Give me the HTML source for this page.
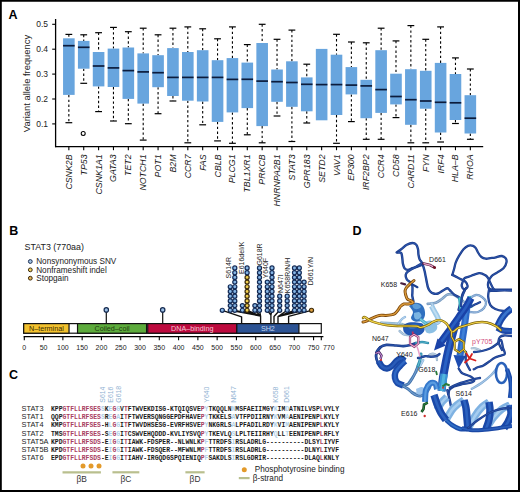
<!DOCTYPE html>
<html><head><meta charset="utf-8"><style>
html,body{margin:0;padding:0;background:#fff;}
body{width:520px;height:492px;overflow:hidden;}
svg{display:block;}
svg text{font-family:"Liberation Sans", sans-serif;}
.mono{font-family:"Liberation Mono", monospace;}
</style></head><body>
<svg width="520" height="492" viewBox="0 0 520 492">
<rect x="0" y="0" width="520" height="492" fill="#fff"/>
<g id="panelA">
<line x1="68.85" y1="34.40" x2="68.85" y2="38.30" stroke="#000" stroke-width="1.1" stroke-dasharray="2.4 2.4"/>
<line x1="65.45" y1="34.40" x2="72.25" y2="34.40" stroke="#000" stroke-width="1.2"/>
<line x1="68.85" y1="94.90" x2="68.85" y2="122.70" stroke="#000" stroke-width="1.1" stroke-dasharray="2.4 2.4"/>
<line x1="65.45" y1="122.70" x2="72.25" y2="122.70" stroke="#000" stroke-width="1.2"/>
<rect x="63.05" y="38.30" width="11.6" height="56.60" fill="#68a5de"/>
<line x1="63.05" y1="45.70" x2="74.65" y2="45.70" stroke="#0c1c3c" stroke-width="1.7"/>
<line x1="68.85" y1="146.6" x2="68.85" y2="150.2" stroke="#000" stroke-width="1.1"/>
<text transform="translate(71.85,154.4) rotate(-90)" text-anchor="end" font-size="8.8" font-style="italic" fill="#1a1a1a">CSNK2B</text>
<line x1="83.72" y1="34.80" x2="83.72" y2="40.90" stroke="#000" stroke-width="1.1" stroke-dasharray="2.4 2.4"/>
<line x1="80.32" y1="34.80" x2="87.12" y2="34.80" stroke="#000" stroke-width="1.2"/>
<line x1="83.72" y1="68.70" x2="83.72" y2="83.30" stroke="#000" stroke-width="1.1" stroke-dasharray="2.4 2.4"/>
<line x1="80.32" y1="83.30" x2="87.12" y2="83.30" stroke="#000" stroke-width="1.2"/>
<rect x="77.92" y="40.90" width="11.6" height="27.80" fill="#68a5de"/>
<line x1="77.92" y1="47.30" x2="89.52" y2="47.30" stroke="#0c1c3c" stroke-width="1.7"/>
<line x1="83.72" y1="146.6" x2="83.72" y2="150.2" stroke="#000" stroke-width="1.1"/>
<text transform="translate(86.72,154.4) rotate(-90)" text-anchor="end" font-size="8.8" font-style="italic" fill="#1a1a1a">TP53</text>
<line x1="98.59" y1="32.70" x2="98.59" y2="52.00" stroke="#000" stroke-width="1.1" stroke-dasharray="2.4 2.4"/>
<line x1="95.19" y1="32.70" x2="101.99" y2="32.70" stroke="#000" stroke-width="1.2"/>
<line x1="98.59" y1="86.40" x2="98.59" y2="111.60" stroke="#000" stroke-width="1.1" stroke-dasharray="2.4 2.4"/>
<line x1="95.19" y1="111.60" x2="101.99" y2="111.60" stroke="#000" stroke-width="1.2"/>
<rect x="92.79" y="52.00" width="11.6" height="34.40" fill="#68a5de"/>
<line x1="92.79" y1="66.00" x2="104.39" y2="66.00" stroke="#0c1c3c" stroke-width="1.7"/>
<line x1="98.59" y1="146.6" x2="98.59" y2="150.2" stroke="#000" stroke-width="1.1"/>
<text transform="translate(101.59,154.4) rotate(-90)" text-anchor="end" font-size="8.8" font-style="italic" fill="#1a1a1a">CSNK1A1</text>
<line x1="113.46" y1="27.40" x2="113.46" y2="48.60" stroke="#000" stroke-width="1.1" stroke-dasharray="2.4 2.4"/>
<line x1="110.06" y1="27.40" x2="116.86" y2="27.40" stroke="#000" stroke-width="1.2"/>
<line x1="113.46" y1="87.00" x2="113.46" y2="121.00" stroke="#000" stroke-width="1.1" stroke-dasharray="2.4 2.4"/>
<line x1="110.06" y1="121.00" x2="116.86" y2="121.00" stroke="#000" stroke-width="1.2"/>
<rect x="107.66" y="48.60" width="11.6" height="38.40" fill="#68a5de"/>
<line x1="107.66" y1="67.90" x2="119.26" y2="67.90" stroke="#0c1c3c" stroke-width="1.7"/>
<line x1="113.46" y1="146.6" x2="113.46" y2="150.2" stroke="#000" stroke-width="1.1"/>
<text transform="translate(116.46,154.4) rotate(-90)" text-anchor="end" font-size="8.8" font-style="italic" fill="#1a1a1a">GATA3</text>
<line x1="128.33" y1="31.70" x2="128.33" y2="47.50" stroke="#000" stroke-width="1.1" stroke-dasharray="2.4 2.4"/>
<line x1="124.93" y1="31.70" x2="131.73" y2="31.70" stroke="#000" stroke-width="1.2"/>
<line x1="128.33" y1="98.90" x2="128.33" y2="123.70" stroke="#000" stroke-width="1.1" stroke-dasharray="2.4 2.4"/>
<line x1="124.93" y1="123.70" x2="131.73" y2="123.70" stroke="#000" stroke-width="1.2"/>
<rect x="122.53" y="47.50" width="11.6" height="51.40" fill="#68a5de"/>
<line x1="122.53" y1="70.60" x2="134.13" y2="70.60" stroke="#0c1c3c" stroke-width="1.7"/>
<line x1="128.33" y1="146.6" x2="128.33" y2="150.2" stroke="#000" stroke-width="1.1"/>
<text transform="translate(131.33,154.4) rotate(-90)" text-anchor="end" font-size="8.8" font-style="italic" fill="#1a1a1a">TET2</text>
<line x1="143.20" y1="28.20" x2="143.20" y2="53.40" stroke="#000" stroke-width="1.1" stroke-dasharray="2.4 2.4"/>
<line x1="139.80" y1="28.20" x2="146.60" y2="28.20" stroke="#000" stroke-width="1.2"/>
<line x1="143.20" y1="103.60" x2="143.20" y2="140.10" stroke="#000" stroke-width="1.1" stroke-dasharray="2.4 2.4"/>
<line x1="139.80" y1="140.10" x2="146.60" y2="140.10" stroke="#000" stroke-width="1.2"/>
<rect x="137.40" y="53.40" width="11.6" height="50.20" fill="#68a5de"/>
<line x1="137.40" y1="71.90" x2="149.00" y2="71.90" stroke="#0c1c3c" stroke-width="1.7"/>
<line x1="143.20" y1="146.6" x2="143.20" y2="150.2" stroke="#000" stroke-width="1.1"/>
<text transform="translate(146.20,154.4) rotate(-90)" text-anchor="end" font-size="8.8" font-style="italic" fill="#1a1a1a">NOTCH1</text>
<line x1="158.07" y1="34.80" x2="158.07" y2="55.20" stroke="#000" stroke-width="1.1" stroke-dasharray="2.4 2.4"/>
<line x1="154.67" y1="34.80" x2="161.47" y2="34.80" stroke="#000" stroke-width="1.2"/>
<line x1="158.07" y1="87.20" x2="158.07" y2="113.70" stroke="#000" stroke-width="1.1" stroke-dasharray="2.4 2.4"/>
<line x1="154.67" y1="113.70" x2="161.47" y2="113.70" stroke="#000" stroke-width="1.2"/>
<rect x="152.27" y="55.20" width="11.6" height="32.00" fill="#68a5de"/>
<line x1="152.27" y1="72.70" x2="163.87" y2="72.70" stroke="#0c1c3c" stroke-width="1.7"/>
<line x1="158.07" y1="146.6" x2="158.07" y2="150.2" stroke="#000" stroke-width="1.1"/>
<text transform="translate(161.07,154.4) rotate(-90)" text-anchor="end" font-size="8.8" font-style="italic" fill="#1a1a1a">POT1</text>
<line x1="172.94" y1="28.20" x2="172.94" y2="48.10" stroke="#000" stroke-width="1.1" stroke-dasharray="2.4 2.4"/>
<line x1="169.54" y1="28.20" x2="176.34" y2="28.20" stroke="#000" stroke-width="1.2"/>
<line x1="172.94" y1="96.00" x2="172.94" y2="101.00" stroke="#000" stroke-width="1.1" stroke-dasharray="2.4 2.4"/>
<line x1="169.54" y1="101.00" x2="176.34" y2="101.00" stroke="#000" stroke-width="1.2"/>
<rect x="167.14" y="48.10" width="11.6" height="47.90" fill="#68a5de"/>
<line x1="167.14" y1="77.40" x2="178.74" y2="77.40" stroke="#0c1c3c" stroke-width="1.7"/>
<line x1="172.94" y1="146.6" x2="172.94" y2="150.2" stroke="#000" stroke-width="1.1"/>
<text transform="translate(175.94,154.4) rotate(-90)" text-anchor="end" font-size="8.8" font-style="italic" fill="#1a1a1a">B2M</text>
<line x1="187.81" y1="26.90" x2="187.81" y2="52.00" stroke="#000" stroke-width="1.1" stroke-dasharray="2.4 2.4"/>
<line x1="184.41" y1="26.90" x2="191.21" y2="26.90" stroke="#000" stroke-width="1.2"/>
<line x1="187.81" y1="100.70" x2="187.81" y2="142.80" stroke="#000" stroke-width="1.1" stroke-dasharray="2.4 2.4"/>
<line x1="184.41" y1="142.80" x2="191.21" y2="142.80" stroke="#000" stroke-width="1.2"/>
<rect x="182.01" y="52.00" width="11.6" height="48.70" fill="#68a5de"/>
<line x1="182.01" y1="77.40" x2="193.61" y2="77.40" stroke="#0c1c3c" stroke-width="1.7"/>
<line x1="187.81" y1="146.6" x2="187.81" y2="150.2" stroke="#000" stroke-width="1.1"/>
<text transform="translate(190.81,154.4) rotate(-90)" text-anchor="end" font-size="8.8" font-style="italic" fill="#1a1a1a">CCR7</text>
<line x1="202.68" y1="28.80" x2="202.68" y2="50.20" stroke="#000" stroke-width="1.1" stroke-dasharray="2.4 2.4"/>
<line x1="199.28" y1="28.80" x2="206.08" y2="28.80" stroke="#000" stroke-width="1.2"/>
<line x1="202.68" y1="101.50" x2="202.68" y2="124.80" stroke="#000" stroke-width="1.1" stroke-dasharray="2.4 2.4"/>
<line x1="199.28" y1="124.80" x2="206.08" y2="124.80" stroke="#000" stroke-width="1.2"/>
<rect x="196.88" y="50.20" width="11.6" height="51.30" fill="#68a5de"/>
<line x1="196.88" y1="77.40" x2="208.48" y2="77.40" stroke="#0c1c3c" stroke-width="1.7"/>
<line x1="202.68" y1="146.6" x2="202.68" y2="150.2" stroke="#000" stroke-width="1.1"/>
<text transform="translate(205.68,154.4) rotate(-90)" text-anchor="end" font-size="8.8" font-style="italic" fill="#1a1a1a">FAS</text>
<line x1="217.55" y1="38.80" x2="217.55" y2="60.20" stroke="#000" stroke-width="1.1" stroke-dasharray="2.4 2.4"/>
<line x1="214.15" y1="38.80" x2="220.95" y2="38.80" stroke="#000" stroke-width="1.2"/>
<line x1="217.55" y1="121.90" x2="217.55" y2="140.90" stroke="#000" stroke-width="1.1" stroke-dasharray="2.4 2.4"/>
<line x1="214.15" y1="140.90" x2="220.95" y2="140.90" stroke="#000" stroke-width="1.2"/>
<rect x="211.75" y="60.20" width="11.6" height="61.70" fill="#68a5de"/>
<line x1="211.75" y1="77.40" x2="223.35" y2="77.40" stroke="#0c1c3c" stroke-width="1.7"/>
<line x1="217.55" y1="146.6" x2="217.55" y2="150.2" stroke="#000" stroke-width="1.1"/>
<text transform="translate(220.55,154.4) rotate(-90)" text-anchor="end" font-size="8.8" font-style="italic" fill="#1a1a1a">CBLB</text>
<line x1="232.42" y1="26.90" x2="232.42" y2="58.10" stroke="#000" stroke-width="1.1" stroke-dasharray="2.4 2.4"/>
<line x1="229.02" y1="26.90" x2="235.82" y2="26.90" stroke="#000" stroke-width="1.2"/>
<line x1="232.42" y1="112.40" x2="232.42" y2="143.30" stroke="#000" stroke-width="1.1" stroke-dasharray="2.4 2.4"/>
<line x1="229.02" y1="143.30" x2="235.82" y2="143.30" stroke="#000" stroke-width="1.2"/>
<rect x="226.62" y="58.10" width="11.6" height="54.30" fill="#68a5de"/>
<line x1="226.62" y1="79.40" x2="238.22" y2="79.40" stroke="#0c1c3c" stroke-width="1.7"/>
<line x1="232.42" y1="146.6" x2="232.42" y2="150.2" stroke="#000" stroke-width="1.1"/>
<text transform="translate(235.42,154.4) rotate(-90)" text-anchor="end" font-size="8.8" font-style="italic" fill="#1a1a1a">PLCG1</text>
<line x1="247.29" y1="44.60" x2="247.29" y2="62.60" stroke="#000" stroke-width="1.1" stroke-dasharray="2.4 2.4"/>
<line x1="243.89" y1="44.60" x2="250.69" y2="44.60" stroke="#000" stroke-width="1.2"/>
<line x1="247.29" y1="108.10" x2="247.29" y2="134.80" stroke="#000" stroke-width="1.1" stroke-dasharray="2.4 2.4"/>
<line x1="243.89" y1="134.80" x2="250.69" y2="134.80" stroke="#000" stroke-width="1.2"/>
<rect x="241.49" y="62.60" width="11.6" height="45.50" fill="#68a5de"/>
<line x1="241.49" y1="79.30" x2="253.09" y2="79.30" stroke="#0c1c3c" stroke-width="1.7"/>
<line x1="247.29" y1="146.6" x2="247.29" y2="150.2" stroke="#000" stroke-width="1.1"/>
<text transform="translate(250.29,154.4) rotate(-90)" text-anchor="end" font-size="8.8" font-style="italic" fill="#1a1a1a">TBL1XR1</text>
<line x1="262.16" y1="24.30" x2="262.16" y2="43.00" stroke="#000" stroke-width="1.1" stroke-dasharray="2.4 2.4"/>
<line x1="258.76" y1="24.30" x2="265.56" y2="24.30" stroke="#000" stroke-width="1.2"/>
<line x1="262.16" y1="126.10" x2="262.16" y2="142.80" stroke="#000" stroke-width="1.1" stroke-dasharray="2.4 2.4"/>
<line x1="258.76" y1="142.80" x2="265.56" y2="142.80" stroke="#000" stroke-width="1.2"/>
<rect x="256.36" y="43.00" width="11.6" height="83.10" fill="#68a5de"/>
<line x1="256.36" y1="81.10" x2="267.96" y2="81.10" stroke="#0c1c3c" stroke-width="1.7"/>
<line x1="262.16" y1="146.6" x2="262.16" y2="150.2" stroke="#000" stroke-width="1.1"/>
<text transform="translate(265.16,154.4) rotate(-90)" text-anchor="end" font-size="8.8" font-style="italic" fill="#1a1a1a">PRKCB</text>
<line x1="277.03" y1="39.30" x2="277.03" y2="69.50" stroke="#000" stroke-width="1.1" stroke-dasharray="2.4 2.4"/>
<line x1="273.63" y1="39.30" x2="280.43" y2="39.30" stroke="#000" stroke-width="1.2"/>
<line x1="277.03" y1="101.80" x2="277.03" y2="116.00" stroke="#000" stroke-width="1.1" stroke-dasharray="2.4 2.4"/>
<line x1="273.63" y1="116.00" x2="280.43" y2="116.00" stroke="#000" stroke-width="1.2"/>
<rect x="271.23" y="69.50" width="11.6" height="32.30" fill="#68a5de"/>
<line x1="271.23" y1="81.70" x2="282.83" y2="81.70" stroke="#0c1c3c" stroke-width="1.7"/>
<line x1="277.03" y1="146.6" x2="277.03" y2="150.2" stroke="#000" stroke-width="1.1"/>
<text transform="translate(280.03,154.4) rotate(-90)" text-anchor="end" font-size="8.8" font-style="italic" fill="#1a1a1a">HNRNPA2B1</text>
<line x1="291.90" y1="30.10" x2="291.90" y2="61.30" stroke="#000" stroke-width="1.1" stroke-dasharray="2.4 2.4"/>
<line x1="288.50" y1="30.10" x2="295.30" y2="30.10" stroke="#000" stroke-width="1.2"/>
<line x1="291.90" y1="106.80" x2="291.90" y2="141.50" stroke="#000" stroke-width="1.1" stroke-dasharray="2.4 2.4"/>
<line x1="288.50" y1="141.50" x2="295.30" y2="141.50" stroke="#000" stroke-width="1.2"/>
<rect x="286.10" y="61.30" width="11.6" height="45.50" fill="#68a5de"/>
<line x1="286.10" y1="82.50" x2="297.70" y2="82.50" stroke="#0c1c3c" stroke-width="1.7"/>
<line x1="291.90" y1="146.6" x2="291.90" y2="150.2" stroke="#000" stroke-width="1.1"/>
<text transform="translate(294.90,154.4) rotate(-90)" text-anchor="end" font-size="8.8" font-style="italic" fill="#1a1a1a">STAT3</text>
<line x1="306.77" y1="64.20" x2="306.77" y2="77.40" stroke="#000" stroke-width="1.1" stroke-dasharray="2.4 2.4"/>
<line x1="303.37" y1="64.20" x2="310.17" y2="64.20" stroke="#000" stroke-width="1.2"/>
<line x1="306.77" y1="111.30" x2="306.77" y2="123.00" stroke="#000" stroke-width="1.1" stroke-dasharray="2.4 2.4"/>
<line x1="303.37" y1="123.00" x2="310.17" y2="123.00" stroke="#000" stroke-width="1.2"/>
<rect x="300.97" y="77.40" width="11.6" height="33.90" fill="#68a5de"/>
<line x1="300.97" y1="84.30" x2="312.57" y2="84.30" stroke="#0c1c3c" stroke-width="1.7"/>
<line x1="306.77" y1="146.6" x2="306.77" y2="150.2" stroke="#000" stroke-width="1.1"/>
<text transform="translate(309.77,154.4) rotate(-90)" text-anchor="end" font-size="8.8" font-style="italic" fill="#1a1a1a">GPR183</text>
<rect x="315.84" y="48.90" width="11.6" height="71.40" fill="#68a5de"/>
<line x1="315.84" y1="84.60" x2="327.44" y2="84.60" stroke="#0c1c3c" stroke-width="1.7"/>
<line x1="321.64" y1="146.6" x2="321.64" y2="150.2" stroke="#000" stroke-width="1.1"/>
<text transform="translate(324.64,154.4) rotate(-90)" text-anchor="end" font-size="8.8" font-style="italic" fill="#1a1a1a">SETD2</text>
<line x1="336.51" y1="34.30" x2="336.51" y2="54.70" stroke="#000" stroke-width="1.1" stroke-dasharray="2.4 2.4"/>
<line x1="333.11" y1="34.30" x2="339.91" y2="34.30" stroke="#000" stroke-width="1.2"/>
<line x1="336.51" y1="115.00" x2="336.51" y2="143.30" stroke="#000" stroke-width="1.1" stroke-dasharray="2.4 2.4"/>
<line x1="333.11" y1="143.30" x2="339.91" y2="143.30" stroke="#000" stroke-width="1.2"/>
<rect x="330.71" y="54.70" width="11.6" height="60.30" fill="#68a5de"/>
<line x1="330.71" y1="84.60" x2="342.31" y2="84.60" stroke="#0c1c3c" stroke-width="1.7"/>
<line x1="336.51" y1="146.6" x2="336.51" y2="150.2" stroke="#000" stroke-width="1.1"/>
<text transform="translate(339.51,154.4) rotate(-90)" text-anchor="end" font-size="8.8" font-style="italic" fill="#1a1a1a">VAV1</text>
<line x1="351.38" y1="42.00" x2="351.38" y2="67.10" stroke="#000" stroke-width="1.1" stroke-dasharray="2.4 2.4"/>
<line x1="347.98" y1="42.00" x2="354.78" y2="42.00" stroke="#000" stroke-width="1.2"/>
<line x1="351.38" y1="94.40" x2="351.38" y2="121.60" stroke="#000" stroke-width="1.1" stroke-dasharray="2.4 2.4"/>
<line x1="347.98" y1="121.60" x2="354.78" y2="121.60" stroke="#000" stroke-width="1.2"/>
<rect x="345.58" y="67.10" width="11.6" height="27.30" fill="#68a5de"/>
<line x1="345.58" y1="85.10" x2="357.18" y2="85.10" stroke="#0c1c3c" stroke-width="1.7"/>
<line x1="351.38" y1="146.6" x2="351.38" y2="150.2" stroke="#000" stroke-width="1.1"/>
<text transform="translate(354.38,154.4) rotate(-90)" text-anchor="end" font-size="8.8" font-style="italic" fill="#1a1a1a">EP300</text>
<line x1="366.25" y1="42.80" x2="366.25" y2="79.80" stroke="#000" stroke-width="1.1" stroke-dasharray="2.4 2.4"/>
<line x1="362.85" y1="42.80" x2="369.65" y2="42.80" stroke="#000" stroke-width="1.2"/>
<line x1="366.25" y1="118.20" x2="366.25" y2="139.30" stroke="#000" stroke-width="1.1" stroke-dasharray="2.4 2.4"/>
<line x1="362.85" y1="139.30" x2="369.65" y2="139.30" stroke="#000" stroke-width="1.2"/>
<rect x="360.45" y="79.80" width="11.6" height="38.40" fill="#68a5de"/>
<line x1="360.45" y1="85.90" x2="372.05" y2="85.90" stroke="#0c1c3c" stroke-width="1.7"/>
<line x1="366.25" y1="146.6" x2="366.25" y2="150.2" stroke="#000" stroke-width="1.1"/>
<text transform="translate(369.25,154.4) rotate(-90)" text-anchor="end" font-size="8.8" font-style="italic" fill="#1a1a1a">IRF2BP2</text>
<line x1="381.12" y1="28.20" x2="381.12" y2="50.20" stroke="#000" stroke-width="1.1" stroke-dasharray="2.4 2.4"/>
<line x1="377.72" y1="28.20" x2="384.52" y2="28.20" stroke="#000" stroke-width="1.2"/>
<line x1="381.12" y1="112.90" x2="381.12" y2="139.30" stroke="#000" stroke-width="1.1" stroke-dasharray="2.4 2.4"/>
<line x1="377.72" y1="139.30" x2="384.52" y2="139.30" stroke="#000" stroke-width="1.2"/>
<rect x="375.32" y="50.20" width="11.6" height="62.70" fill="#68a5de"/>
<line x1="375.32" y1="89.60" x2="386.92" y2="89.60" stroke="#0c1c3c" stroke-width="1.7"/>
<line x1="381.12" y1="146.6" x2="381.12" y2="150.2" stroke="#000" stroke-width="1.1"/>
<text transform="translate(384.12,154.4) rotate(-90)" text-anchor="end" font-size="8.8" font-style="italic" fill="#1a1a1a">CCR4</text>
<line x1="395.99" y1="40.90" x2="395.99" y2="73.70" stroke="#000" stroke-width="1.1" stroke-dasharray="2.4 2.4"/>
<line x1="392.59" y1="40.90" x2="399.39" y2="40.90" stroke="#000" stroke-width="1.2"/>
<line x1="395.99" y1="104.40" x2="395.99" y2="117.60" stroke="#000" stroke-width="1.1" stroke-dasharray="2.4 2.4"/>
<line x1="392.59" y1="117.60" x2="399.39" y2="117.60" stroke="#000" stroke-width="1.2"/>
<rect x="390.19" y="73.70" width="11.6" height="30.70" fill="#68a5de"/>
<line x1="390.19" y1="96.50" x2="401.79" y2="96.50" stroke="#0c1c3c" stroke-width="1.7"/>
<line x1="395.99" y1="146.6" x2="395.99" y2="150.2" stroke="#000" stroke-width="1.1"/>
<text transform="translate(398.99,154.4) rotate(-90)" text-anchor="end" font-size="8.8" font-style="italic" fill="#1a1a1a">CD58</text>
<line x1="410.86" y1="25.60" x2="410.86" y2="69.20" stroke="#000" stroke-width="1.1" stroke-dasharray="2.4 2.4"/>
<line x1="407.46" y1="25.60" x2="414.26" y2="25.60" stroke="#000" stroke-width="1.2"/>
<line x1="410.86" y1="124.80" x2="410.86" y2="142.80" stroke="#000" stroke-width="1.1" stroke-dasharray="2.4 2.4"/>
<line x1="407.46" y1="142.80" x2="414.26" y2="142.80" stroke="#000" stroke-width="1.2"/>
<rect x="405.06" y="69.20" width="11.6" height="55.60" fill="#68a5de"/>
<line x1="405.06" y1="99.70" x2="416.66" y2="99.70" stroke="#0c1c3c" stroke-width="1.7"/>
<line x1="410.86" y1="146.6" x2="410.86" y2="150.2" stroke="#000" stroke-width="1.1"/>
<text transform="translate(413.86,154.4) rotate(-90)" text-anchor="end" font-size="8.8" font-style="italic" fill="#1a1a1a">CARD11</text>
<line x1="425.73" y1="39.30" x2="425.73" y2="70.80" stroke="#000" stroke-width="1.1" stroke-dasharray="2.4 2.4"/>
<line x1="422.33" y1="39.30" x2="429.13" y2="39.30" stroke="#000" stroke-width="1.2"/>
<line x1="425.73" y1="108.70" x2="425.73" y2="142.80" stroke="#000" stroke-width="1.1" stroke-dasharray="2.4 2.4"/>
<line x1="422.33" y1="142.80" x2="429.13" y2="142.80" stroke="#000" stroke-width="1.2"/>
<rect x="419.93" y="70.80" width="11.6" height="37.90" fill="#68a5de"/>
<line x1="419.93" y1="101.00" x2="431.53" y2="101.00" stroke="#0c1c3c" stroke-width="1.7"/>
<line x1="425.73" y1="146.6" x2="425.73" y2="150.2" stroke="#000" stroke-width="1.1"/>
<text transform="translate(428.73,154.4) rotate(-90)" text-anchor="end" font-size="8.8" font-style="italic" fill="#1a1a1a">FYN</text>
<line x1="440.60" y1="26.90" x2="440.60" y2="62.90" stroke="#000" stroke-width="1.1" stroke-dasharray="2.4 2.4"/>
<line x1="437.20" y1="26.90" x2="444.00" y2="26.90" stroke="#000" stroke-width="1.2"/>
<line x1="440.60" y1="132.50" x2="440.60" y2="142.00" stroke="#000" stroke-width="1.1" stroke-dasharray="2.4 2.4"/>
<line x1="437.20" y1="142.00" x2="444.00" y2="142.00" stroke="#000" stroke-width="1.2"/>
<rect x="434.80" y="62.90" width="11.6" height="69.60" fill="#68a5de"/>
<line x1="434.80" y1="102.30" x2="446.40" y2="102.30" stroke="#0c1c3c" stroke-width="1.7"/>
<line x1="440.60" y1="146.6" x2="440.60" y2="150.2" stroke="#000" stroke-width="1.1"/>
<text transform="translate(443.60,154.4) rotate(-90)" text-anchor="end" font-size="8.8" font-style="italic" fill="#1a1a1a">IRF4</text>
<line x1="455.47" y1="57.90" x2="455.47" y2="74.00" stroke="#000" stroke-width="1.1" stroke-dasharray="2.4 2.4"/>
<line x1="452.07" y1="57.90" x2="458.87" y2="57.90" stroke="#000" stroke-width="1.2"/>
<line x1="455.47" y1="120.00" x2="455.47" y2="123.50" stroke="#000" stroke-width="1.1" stroke-dasharray="2.4 2.4"/>
<line x1="452.07" y1="123.50" x2="458.87" y2="123.50" stroke="#000" stroke-width="1.2"/>
<rect x="449.67" y="74.00" width="11.6" height="46.00" fill="#68a5de"/>
<line x1="449.67" y1="102.80" x2="461.27" y2="102.80" stroke="#0c1c3c" stroke-width="1.7"/>
<line x1="455.47" y1="146.6" x2="455.47" y2="150.2" stroke="#000" stroke-width="1.1"/>
<text transform="translate(458.47,154.4) rotate(-90)" text-anchor="end" font-size="8.8" font-style="italic" fill="#1a1a1a">HLA–B</text>
<line x1="470.34" y1="69.00" x2="470.34" y2="95.20" stroke="#000" stroke-width="1.1" stroke-dasharray="2.4 2.4"/>
<line x1="466.94" y1="69.00" x2="473.74" y2="69.00" stroke="#000" stroke-width="1.2"/>
<line x1="470.34" y1="133.50" x2="470.34" y2="139.30" stroke="#000" stroke-width="1.1" stroke-dasharray="2.4 2.4"/>
<line x1="466.94" y1="139.30" x2="473.74" y2="139.30" stroke="#000" stroke-width="1.2"/>
<rect x="464.54" y="95.20" width="11.6" height="38.30" fill="#68a5de"/>
<line x1="464.54" y1="118.20" x2="476.14" y2="118.20" stroke="#0c1c3c" stroke-width="1.7"/>
<line x1="470.34" y1="146.6" x2="470.34" y2="150.2" stroke="#000" stroke-width="1.1"/>
<text transform="translate(473.34,154.4) rotate(-90)" text-anchor="end" font-size="8.8" font-style="italic" fill="#1a1a1a">RHOA</text>
<circle cx="83.2" cy="133.5" r="2.0" fill="none" stroke="#000" stroke-width="1.05"/>
<line x1="55.6" y1="19" x2="55.6" y2="147.2" stroke="#000" stroke-width="1.3"/>
<line x1="55" y1="146.6" x2="483.2" y2="146.6" stroke="#000" stroke-width="1.3"/>
<line x1="52.2" y1="24.30" x2="55.6" y2="24.30" stroke="#000" stroke-width="1.1"/>
<text x="48" y="27.20" text-anchor="end" font-size="8.5" fill="#222">0.5</text>
<line x1="52.2" y1="49.20" x2="55.6" y2="49.20" stroke="#000" stroke-width="1.1"/>
<text x="48" y="52.10" text-anchor="end" font-size="8.5" fill="#222">0.4</text>
<line x1="52.2" y1="74.10" x2="55.6" y2="74.10" stroke="#000" stroke-width="1.1"/>
<text x="48" y="77.00" text-anchor="end" font-size="8.5" fill="#222">0.3</text>
<line x1="52.2" y1="99.00" x2="55.6" y2="99.00" stroke="#000" stroke-width="1.1"/>
<text x="48" y="101.90" text-anchor="end" font-size="8.5" fill="#222">0.2</text>
<line x1="52.2" y1="123.90" x2="55.6" y2="123.90" stroke="#000" stroke-width="1.1"/>
<text x="48" y="126.80" text-anchor="end" font-size="8.5" fill="#222">0.1</text>
<text transform="translate(29.8,83.5) rotate(-90)" text-anchor="middle" font-size="9.4" fill="#222">Variant allele frequency</text>
</g>
<g id="panelB">
<text x="24.6" y="249.9" font-size="8.9" fill="#222">STAT3 (770aa)</text>
<circle cx="30.3" cy="261.50" r="1.9" fill="#a3c4e6" stroke="#1b2f52" stroke-width="1"/>
<text x="36.2" y="264.20" font-size="8.2" fill="#222">Nonsynonymous SNV</text>
<circle cx="30.3" cy="269.85" r="1.9" fill="#f2d262" stroke="#3b2a0a" stroke-width="1"/>
<text x="36.2" y="272.55" font-size="8.2" fill="#222">Nonframeshift indel</text>
<circle cx="30.3" cy="278.20" r="1.9" fill="#e6b45a" stroke="#3b2a0a" stroke-width="1"/>
<text x="36.2" y="280.90" font-size="8.2" fill="#222">Stopgain</text>
<line x1="23.6" y1="336.7" x2="323.4" y2="336.7" stroke="#000" stroke-width="1.2"/>
<line x1="24.30" y1="336.7" x2="24.30" y2="340.3" stroke="#000" stroke-width="1.1"/>
<text x="24.30" y="350" text-anchor="middle" font-size="7" fill="#222">0</text>
<line x1="43.59" y1="336.7" x2="43.59" y2="340.3" stroke="#000" stroke-width="1.1"/>
<text x="43.59" y="350" text-anchor="middle" font-size="7" fill="#222">50</text>
<line x1="62.87" y1="336.7" x2="62.87" y2="340.3" stroke="#000" stroke-width="1.1"/>
<text x="62.87" y="350" text-anchor="middle" font-size="7" fill="#222">100</text>
<line x1="82.16" y1="336.7" x2="82.16" y2="340.3" stroke="#000" stroke-width="1.1"/>
<text x="82.16" y="350" text-anchor="middle" font-size="7" fill="#222">150</text>
<line x1="101.44" y1="336.7" x2="101.44" y2="340.3" stroke="#000" stroke-width="1.1"/>
<text x="101.44" y="350" text-anchor="middle" font-size="7" fill="#222">200</text>
<line x1="120.72" y1="336.7" x2="120.72" y2="340.3" stroke="#000" stroke-width="1.1"/>
<text x="120.72" y="350" text-anchor="middle" font-size="7" fill="#222">250</text>
<line x1="140.01" y1="336.7" x2="140.01" y2="340.3" stroke="#000" stroke-width="1.1"/>
<text x="140.01" y="350" text-anchor="middle" font-size="7" fill="#222">300</text>
<line x1="159.30" y1="336.7" x2="159.30" y2="340.3" stroke="#000" stroke-width="1.1"/>
<text x="159.30" y="350" text-anchor="middle" font-size="7" fill="#222">350</text>
<line x1="178.58" y1="336.7" x2="178.58" y2="340.3" stroke="#000" stroke-width="1.1"/>
<text x="178.58" y="350" text-anchor="middle" font-size="7" fill="#222">400</text>
<line x1="197.87" y1="336.7" x2="197.87" y2="340.3" stroke="#000" stroke-width="1.1"/>
<text x="197.87" y="350" text-anchor="middle" font-size="7" fill="#222">450</text>
<line x1="217.15" y1="336.7" x2="217.15" y2="340.3" stroke="#000" stroke-width="1.1"/>
<text x="217.15" y="350" text-anchor="middle" font-size="7" fill="#222">500</text>
<line x1="236.44" y1="336.7" x2="236.44" y2="340.3" stroke="#000" stroke-width="1.1"/>
<text x="236.44" y="350" text-anchor="middle" font-size="7" fill="#222">550</text>
<line x1="255.72" y1="336.7" x2="255.72" y2="340.3" stroke="#000" stroke-width="1.1"/>
<text x="255.72" y="350" text-anchor="middle" font-size="7" fill="#222">600</text>
<line x1="275.00" y1="336.7" x2="275.00" y2="340.3" stroke="#000" stroke-width="1.1"/>
<text x="275.00" y="350" text-anchor="middle" font-size="7" fill="#222">650</text>
<line x1="294.29" y1="336.7" x2="294.29" y2="340.3" stroke="#000" stroke-width="1.1"/>
<text x="294.29" y="350" text-anchor="middle" font-size="7" fill="#222">700</text>
<line x1="313.57" y1="336.7" x2="313.57" y2="340.3" stroke="#000" stroke-width="1.1"/>
<text x="313.57" y="350" text-anchor="middle" font-size="7" fill="#222">750</text>
<line x1="321.29" y1="336.7" x2="321.29" y2="340.3" stroke="#000" stroke-width="1.1"/>
<text x="328.79" y="350" text-anchor="middle" font-size="7" fill="#222">770</text>
<rect x="23.70" y="323.6" width="297.59" height="9.6" fill="#fff" stroke="#111" stroke-width="1.2"/>
<rect x="23.70" y="323.6" width="45.34" height="9.6" fill="#f2c12e" stroke="#111" stroke-width="1.2"/>
<text x="46.37" y="331.00" text-anchor="middle" font-size="7.2" fill="#3a2c00">N–terminal</text>
<rect x="77.53" y="323.6" width="69.04" height="9.6" fill="#5dab3c" stroke="#111" stroke-width="1.2"/>
<text x="112.05" y="331.00" text-anchor="middle" font-size="7.2" fill="#1d3d0f">Coiled–coil</text>
<rect x="147.72" y="323.6" width="89.10" height="9.6" fill="#bd0a3e" stroke="#111" stroke-width="1.2"/>
<text x="192.27" y="331.00" text-anchor="middle" font-size="7.2" fill="#f3c6d3">DNA–binding</text>
<rect x="236.82" y="323.6" width="62.10" height="9.6" fill="#2c5394" stroke="#111" stroke-width="1.2"/>
<text x="267.87" y="331.00" text-anchor="middle" font-size="7.2" fill="#c2d6ef">SH2</text>
<line x1="106.3" y1="311.5" x2="106.3" y2="323.6" stroke="#111" stroke-width="1.2"/>
<circle cx="106.3" cy="309.9" r="2.2" fill="#9cc0e6" stroke="#152a50" stroke-width="1.2"/>
<line x1="162.7" y1="311.5" x2="162.7" y2="323.6" stroke="#111" stroke-width="1.2"/>
<circle cx="162.7" cy="309.9" r="2.2" fill="#9cc0e6" stroke="#152a50" stroke-width="1.2"/>
<path d="M222.3 310.3 L241.6 316.8 L241.6 324 M230.3 310.3 L260.6 316 L260.6 324 M234.8 310.3 L260.6 316 M242.4 310.3 L260.6 316 M247.1 310.3 L260.6 316 M254.9 310.3 L260.6 316 M259.5 310.3 L260.6 316 M267.3 310.3 L270.9 315 L270.9 324 M272.0 310.3 L270.9 315 M279.7 310.3 L274.0 316.5 L274.0 324 M287.2 310.3 L278.0 316.5 L278.0 324 M294.5 310.3 L278.0 316.5 M299.3 310.3 L278.0 316.5 M304.1 310.3 L278.0 316.5 M311.5 310.3 L288.6 316.3 L288.6 324" stroke="#111" stroke-width="1.35" fill="none" stroke-linejoin="round"/>
<circle cx="222.3" cy="310.30" r="2.05" fill="#86b6e6" stroke="#132a55" stroke-width="1.2"/>
<circle cx="230.3" cy="310.30" r="2.05" fill="#86b6e6" stroke="#132a55" stroke-width="1.2"/>
<circle cx="230.3" cy="305.60" r="2.05" fill="#86b6e6" stroke="#132a55" stroke-width="1.2"/>
<circle cx="230.3" cy="300.90" r="2.05" fill="#86b6e6" stroke="#132a55" stroke-width="1.2"/>
<circle cx="230.3" cy="296.20" r="2.05" fill="#86b6e6" stroke="#132a55" stroke-width="1.2"/>
<circle cx="230.3" cy="291.50" r="2.05" fill="#86b6e6" stroke="#132a55" stroke-width="1.2"/>
<circle cx="230.3" cy="286.80" r="2.05" fill="#86b6e6" stroke="#132a55" stroke-width="1.2"/>
<circle cx="234.8" cy="310.30" r="2.05" fill="#86b6e6" stroke="#132a55" stroke-width="1.2"/>
<circle cx="234.8" cy="305.60" r="2.05" fill="#86b6e6" stroke="#132a55" stroke-width="1.2"/>
<circle cx="234.8" cy="300.90" r="2.05" fill="#86b6e6" stroke="#132a55" stroke-width="1.2"/>
<circle cx="234.8" cy="296.20" r="2.05" fill="#86b6e6" stroke="#132a55" stroke-width="1.2"/>
<circle cx="234.8" cy="291.50" r="2.05" fill="#86b6e6" stroke="#132a55" stroke-width="1.2"/>
<circle cx="234.8" cy="286.80" r="2.05" fill="#86b6e6" stroke="#132a55" stroke-width="1.2"/>
<circle cx="234.8" cy="282.10" r="2.05" fill="#86b6e6" stroke="#132a55" stroke-width="1.2"/>
<circle cx="234.8" cy="277.40" r="2.05" fill="#86b6e6" stroke="#132a55" stroke-width="1.2"/>
<circle cx="234.8" cy="272.70" r="2.05" fill="#86b6e6" stroke="#132a55" stroke-width="1.2"/>
<circle cx="234.8" cy="268.00" r="2.05" fill="#86b6e6" stroke="#132a55" stroke-width="1.2"/>
<circle cx="242.4" cy="310.30" r="2.05" fill="#86b6e6" stroke="#132a55" stroke-width="1.2"/>
<circle cx="242.4" cy="305.60" r="2.05" fill="#86b6e6" stroke="#132a55" stroke-width="1.2"/>
<circle cx="247.1" cy="310.30" r="2.05" fill="#f2d050" stroke="#3b2a0a" stroke-width="1.2"/>
<circle cx="247.1" cy="305.60" r="2.05" fill="#f2d050" stroke="#3b2a0a" stroke-width="1.2"/>
<circle cx="247.1" cy="300.90" r="2.05" fill="#f2d050" stroke="#3b2a0a" stroke-width="1.2"/>
<circle cx="247.1" cy="296.20" r="2.05" fill="#f2d050" stroke="#3b2a0a" stroke-width="1.2"/>
<circle cx="247.1" cy="291.50" r="2.05" fill="#f2d050" stroke="#3b2a0a" stroke-width="1.2"/>
<circle cx="247.1" cy="286.80" r="2.05" fill="#f2d050" stroke="#3b2a0a" stroke-width="1.2"/>
<circle cx="247.1" cy="282.10" r="2.05" fill="#f2d050" stroke="#3b2a0a" stroke-width="1.2"/>
<circle cx="247.1" cy="277.40" r="2.05" fill="#f2d050" stroke="#3b2a0a" stroke-width="1.2"/>
<circle cx="247.1" cy="272.70" r="2.05" fill="#86b6e6" stroke="#132a55" stroke-width="1.2"/>
<circle cx="247.1" cy="268.00" r="2.05" fill="#86b6e6" stroke="#132a55" stroke-width="1.2"/>
<circle cx="254.9" cy="310.30" r="2.05" fill="#86b6e6" stroke="#132a55" stroke-width="1.2"/>
<circle cx="254.9" cy="305.60" r="2.05" fill="#86b6e6" stroke="#132a55" stroke-width="1.2"/>
<circle cx="259.5" cy="310.30" r="2.05" fill="#86b6e6" stroke="#132a55" stroke-width="1.2"/>
<circle cx="259.5" cy="305.60" r="2.05" fill="#86b6e6" stroke="#132a55" stroke-width="1.2"/>
<circle cx="259.5" cy="300.90" r="2.05" fill="#86b6e6" stroke="#132a55" stroke-width="1.2"/>
<circle cx="259.5" cy="296.20" r="2.05" fill="#86b6e6" stroke="#132a55" stroke-width="1.2"/>
<circle cx="259.5" cy="291.50" r="2.05" fill="#86b6e6" stroke="#132a55" stroke-width="1.2"/>
<circle cx="259.5" cy="286.80" r="2.05" fill="#86b6e6" stroke="#132a55" stroke-width="1.2"/>
<circle cx="259.5" cy="282.10" r="2.05" fill="#86b6e6" stroke="#132a55" stroke-width="1.2"/>
<circle cx="259.5" cy="277.40" r="2.05" fill="#86b6e6" stroke="#132a55" stroke-width="1.2"/>
<circle cx="259.5" cy="272.70" r="2.05" fill="#86b6e6" stroke="#132a55" stroke-width="1.2"/>
<circle cx="259.5" cy="268.00" r="2.05" fill="#86b6e6" stroke="#132a55" stroke-width="1.2"/>
<circle cx="267.3" cy="310.30" r="2.05" fill="#86b6e6" stroke="#132a55" stroke-width="1.2"/>
<circle cx="267.3" cy="305.60" r="2.05" fill="#86b6e6" stroke="#132a55" stroke-width="1.2"/>
<circle cx="267.3" cy="300.90" r="2.05" fill="#86b6e6" stroke="#132a55" stroke-width="1.2"/>
<circle cx="267.3" cy="296.20" r="2.05" fill="#86b6e6" stroke="#132a55" stroke-width="1.2"/>
<circle cx="267.3" cy="291.50" r="2.05" fill="#86b6e6" stroke="#132a55" stroke-width="1.2"/>
<circle cx="267.3" cy="286.80" r="2.05" fill="#86b6e6" stroke="#132a55" stroke-width="1.2"/>
<circle cx="267.3" cy="282.10" r="2.05" fill="#86b6e6" stroke="#132a55" stroke-width="1.2"/>
<circle cx="272.0" cy="310.30" r="2.05" fill="#86b6e6" stroke="#132a55" stroke-width="1.2"/>
<circle cx="272.0" cy="305.60" r="2.05" fill="#86b6e6" stroke="#132a55" stroke-width="1.2"/>
<circle cx="272.0" cy="300.90" r="2.05" fill="#86b6e6" stroke="#132a55" stroke-width="1.2"/>
<circle cx="272.0" cy="296.20" r="2.05" fill="#86b6e6" stroke="#132a55" stroke-width="1.2"/>
<circle cx="272.0" cy="291.50" r="2.05" fill="#86b6e6" stroke="#132a55" stroke-width="1.2"/>
<circle cx="272.0" cy="286.80" r="2.05" fill="#86b6e6" stroke="#132a55" stroke-width="1.2"/>
<circle cx="272.0" cy="282.10" r="2.05" fill="#86b6e6" stroke="#132a55" stroke-width="1.2"/>
<circle cx="272.0" cy="277.40" r="2.05" fill="#86b6e6" stroke="#132a55" stroke-width="1.2"/>
<circle cx="272.0" cy="272.70" r="2.05" fill="#86b6e6" stroke="#132a55" stroke-width="1.2"/>
<circle cx="272.0" cy="268.00" r="2.05" fill="#86b6e6" stroke="#132a55" stroke-width="1.2"/>
<circle cx="279.7" cy="310.30" r="2.05" fill="#86b6e6" stroke="#132a55" stroke-width="1.2"/>
<circle cx="279.7" cy="305.60" r="2.05" fill="#86b6e6" stroke="#132a55" stroke-width="1.2"/>
<circle cx="279.7" cy="300.90" r="2.05" fill="#86b6e6" stroke="#132a55" stroke-width="1.2"/>
<circle cx="279.7" cy="296.20" r="2.05" fill="#86b6e6" stroke="#132a55" stroke-width="1.2"/>
<circle cx="287.2" cy="310.30" r="2.05" fill="#86b6e6" stroke="#132a55" stroke-width="1.2"/>
<circle cx="287.2" cy="305.60" r="2.05" fill="#86b6e6" stroke="#132a55" stroke-width="1.2"/>
<circle cx="287.2" cy="300.90" r="2.05" fill="#86b6e6" stroke="#132a55" stroke-width="1.2"/>
<circle cx="287.2" cy="296.20" r="2.05" fill="#86b6e6" stroke="#132a55" stroke-width="1.2"/>
<circle cx="294.5" cy="310.30" r="2.05" fill="#86b6e6" stroke="#132a55" stroke-width="1.2"/>
<circle cx="294.5" cy="305.60" r="2.05" fill="#86b6e6" stroke="#132a55" stroke-width="1.2"/>
<circle cx="294.5" cy="300.90" r="2.05" fill="#86b6e6" stroke="#132a55" stroke-width="1.2"/>
<circle cx="294.5" cy="296.20" r="2.05" fill="#86b6e6" stroke="#132a55" stroke-width="1.2"/>
<circle cx="294.5" cy="291.50" r="2.05" fill="#86b6e6" stroke="#132a55" stroke-width="1.2"/>
<circle cx="294.5" cy="286.80" r="2.05" fill="#86b6e6" stroke="#132a55" stroke-width="1.2"/>
<circle cx="294.5" cy="282.10" r="2.05" fill="#86b6e6" stroke="#132a55" stroke-width="1.2"/>
<circle cx="294.5" cy="277.40" r="2.05" fill="#86b6e6" stroke="#132a55" stroke-width="1.2"/>
<circle cx="294.5" cy="272.70" r="2.05" fill="#86b6e6" stroke="#132a55" stroke-width="1.2"/>
<circle cx="294.5" cy="268.00" r="2.05" fill="#86b6e6" stroke="#132a55" stroke-width="1.2"/>
<circle cx="299.3" cy="310.30" r="2.05" fill="#86b6e6" stroke="#132a55" stroke-width="1.2"/>
<circle cx="299.3" cy="305.60" r="2.05" fill="#86b6e6" stroke="#132a55" stroke-width="1.2"/>
<circle cx="299.3" cy="300.90" r="2.05" fill="#86b6e6" stroke="#132a55" stroke-width="1.2"/>
<circle cx="299.3" cy="296.20" r="2.05" fill="#86b6e6" stroke="#132a55" stroke-width="1.2"/>
<circle cx="299.3" cy="291.50" r="2.05" fill="#86b6e6" stroke="#132a55" stroke-width="1.2"/>
<circle cx="299.3" cy="286.80" r="2.05" fill="#86b6e6" stroke="#132a55" stroke-width="1.2"/>
<circle cx="299.3" cy="282.10" r="2.05" fill="#86b6e6" stroke="#132a55" stroke-width="1.2"/>
<circle cx="299.3" cy="277.40" r="2.05" fill="#86b6e6" stroke="#132a55" stroke-width="1.2"/>
<circle cx="299.3" cy="272.70" r="2.05" fill="#86b6e6" stroke="#132a55" stroke-width="1.2"/>
<circle cx="299.3" cy="268.00" r="2.05" fill="#86b6e6" stroke="#132a55" stroke-width="1.2"/>
<circle cx="304.1" cy="310.30" r="2.05" fill="#86b6e6" stroke="#132a55" stroke-width="1.2"/>
<circle cx="304.1" cy="305.60" r="2.05" fill="#86b6e6" stroke="#132a55" stroke-width="1.2"/>
<circle cx="304.1" cy="300.90" r="2.05" fill="#86b6e6" stroke="#132a55" stroke-width="1.2"/>
<circle cx="304.1" cy="296.20" r="2.05" fill="#86b6e6" stroke="#132a55" stroke-width="1.2"/>
<circle cx="304.1" cy="291.50" r="2.05" fill="#86b6e6" stroke="#132a55" stroke-width="1.2"/>
<circle cx="304.1" cy="286.80" r="2.05" fill="#86b6e6" stroke="#132a55" stroke-width="1.2"/>
<circle cx="304.1" cy="282.10" r="2.05" fill="#86b6e6" stroke="#132a55" stroke-width="1.2"/>
<circle cx="311.5" cy="310.3" r="2.05" fill="#e0a040" stroke="#3b2a0a" stroke-width="1.2"/>
<text transform="translate(230.6,278.4) rotate(-90)" font-size="7" fill="#222">S614R</text>
<text transform="translate(243.6,274.0) rotate(-90)" font-size="7" fill="#222">E616del/K</text>
<text transform="translate(261.6,265.5) rotate(-90)" font-size="7" fill="#222">G618R</text>
<text transform="translate(268.2,278.5) rotate(-90)" font-size="7" fill="#222">Y640F</text>
<text transform="translate(282.7,293.0) rotate(-90)" font-size="7" fill="#222">N647I</text>
<text transform="translate(290.0,293.2) rotate(-90)" font-size="7" fill="#222">K658R/N/H</text>
<text transform="translate(313.2,285.3) rotate(-90)" font-size="7" fill="#222">D661Y/N</text>
</g>
<g id="panelC">
<text x="21.6" y="410.60" font-size="7.4" fill="#222">STAT3</text>
<text class="mono" x="52.92 56.76 60.60" y="410.60" text-anchor="middle" font-size="6.4" font-weight="bold" fill="#1a1a1a">KPP</text>
<text class="mono" x="64.44 68.28 72.12 75.96 79.80 83.64 87.48 91.32 95.16 99.00" y="410.60" text-anchor="middle" font-size="6.4" font-weight="bold" fill="#a8405f">GTFLLRFSES</text>
<text class="mono" x="102.84" y="410.60" text-anchor="middle" font-size="6.4" font-weight="bold" fill="#b0cfe8">S</text>
<text class="mono" x="106.68" y="410.60" text-anchor="middle" font-size="6.4" font-weight="bold" fill="#1a1a1a">K</text>
<text class="mono" x="110.52" y="410.60" text-anchor="middle" font-size="6.4" font-weight="bold" fill="#b0cfe8">E</text>
<text class="mono" x="114.36" y="410.60" text-anchor="middle" font-size="6.4" font-weight="bold" fill="#a8405f">G</text>
<text class="mono" x="118.20" y="410.60" text-anchor="middle" font-size="6.4" font-weight="bold" fill="#b0cfe8">G</text>
<text class="mono" x="122.04" y="410.60" text-anchor="middle" font-size="6.4" font-weight="bold" fill="#1a1a1a">V</text>
<text class="mono" x="125.88" y="410.60" text-anchor="middle" font-size="6.4" font-weight="bold" fill="#a8405f">T</text>
<text class="mono" x="129.72 133.56 137.40 141.24 145.08 148.92 152.76 156.60 160.44 164.28 168.12 171.96 175.80 179.64 183.48 187.32 191.16 195.00 198.84" y="410.60" text-anchor="middle" font-size="6.4" font-weight="bold" fill="#1a1a1a">FTWVEKDISG-KTQIQSVE</text>
<text class="mono" x="202.68" y="410.60" text-anchor="middle" font-size="6.4" font-weight="bold" fill="#a8405f">P</text>
<text class="mono" x="206.52" y="410.60" text-anchor="middle" font-size="6.4" font-weight="bold" fill="#b0cfe8">Y</text>
<text class="mono" x="210.36 214.20 218.04 221.88 225.72 229.56" y="410.60" text-anchor="middle" font-size="6.4" font-weight="bold" fill="#1a1a1a">TKQQLN</text>
<text class="mono" x="233.40" y="410.60" text-anchor="middle" font-size="6.4" font-weight="bold" fill="#b0cfe8">N</text>
<text class="mono" x="237.24 241.08 244.92 248.76 252.60 256.44 260.28 264.12 267.96 271.80" y="410.60" text-anchor="middle" font-size="6.4" font-weight="bold" fill="#1a1a1a">MSFAEIIMGY</text>
<text class="mono" x="275.64" y="410.60" text-anchor="middle" font-size="6.4" font-weight="bold" fill="#b0cfe8">K</text>
<text class="mono" x="279.48 283.32" y="410.60" text-anchor="middle" font-size="6.4" font-weight="bold" fill="#1a1a1a">IM</text>
<text class="mono" x="287.16" y="410.60" text-anchor="middle" font-size="6.4" font-weight="bold" fill="#b0cfe8">D</text>
<text class="mono" x="291.00 294.84 298.68 302.52 306.36 310.20 314.04 317.88" y="410.60" text-anchor="middle" font-size="6.4" font-weight="bold" fill="#1a1a1a">ATNILVSP</text>
<text class="mono" x="321.72" y="410.60" text-anchor="middle" font-size="6.4" font-weight="bold" fill="#a8405f">L</text>
<text class="mono" x="325.56 329.40 333.24 337.08" y="410.60" text-anchor="middle" font-size="6.4" font-weight="bold" fill="#1a1a1a">VYLY</text>
<text x="21.6" y="418.90" font-size="7.4" fill="#222">STAT1</text>
<text class="mono" x="52.92 56.76 60.60" y="418.90" text-anchor="middle" font-size="6.4" font-weight="bold" fill="#1a1a1a">QQP</text>
<text class="mono" x="64.44 68.28 72.12 75.96 79.80 83.64 87.48 91.32 95.16 99.00" y="418.90" text-anchor="middle" font-size="6.4" font-weight="bold" fill="#a8405f">GTFLLRFSES</text>
<text class="mono" x="102.84" y="418.90" text-anchor="middle" font-size="6.4" font-weight="bold" fill="#b0cfe8">S</text>
<text class="mono" x="106.68" y="418.90" text-anchor="middle" font-size="6.4" font-weight="bold" fill="#1a1a1a">R</text>
<text class="mono" x="110.52" y="418.90" text-anchor="middle" font-size="6.4" font-weight="bold" fill="#b0cfe8">E</text>
<text class="mono" x="114.36" y="418.90" text-anchor="middle" font-size="6.4" font-weight="bold" fill="#a8405f">G</text>
<text class="mono" x="118.20" y="418.90" text-anchor="middle" font-size="6.4" font-weight="bold" fill="#b0cfe8">A</text>
<text class="mono" x="122.04" y="418.90" text-anchor="middle" font-size="6.4" font-weight="bold" fill="#1a1a1a">I</text>
<text class="mono" x="125.88" y="418.90" text-anchor="middle" font-size="6.4" font-weight="bold" fill="#a8405f">T</text>
<text class="mono" x="129.72 133.56 137.40 141.24 145.08 148.92 152.76 156.60 160.44 164.28 168.12 171.96 175.80 179.64 183.48 187.32 191.16 195.00 198.84" y="418.90" text-anchor="middle" font-size="6.4" font-weight="bold" fill="#1a1a1a">FTWVERSQNGGEPDFHAVE</text>
<text class="mono" x="202.68" y="418.90" text-anchor="middle" font-size="6.4" font-weight="bold" fill="#a8405f">P</text>
<text class="mono" x="206.52" y="418.90" text-anchor="middle" font-size="6.4" font-weight="bold" fill="#b0cfe8">Y</text>
<text class="mono" x="210.36 214.20 218.04 221.88 225.72 229.56" y="418.90" text-anchor="middle" font-size="6.4" font-weight="bold" fill="#1a1a1a">TKKELS</text>
<text class="mono" x="233.40" y="418.90" text-anchor="middle" font-size="6.4" font-weight="bold" fill="#b0cfe8">A</text>
<text class="mono" x="237.24 241.08 244.92 248.76 252.60 256.44 260.28 264.12 267.96 271.80" y="418.90" text-anchor="middle" font-size="6.4" font-weight="bold" fill="#1a1a1a">VTFPDIIRNY</text>
<text class="mono" x="275.64" y="418.90" text-anchor="middle" font-size="6.4" font-weight="bold" fill="#b0cfe8">K</text>
<text class="mono" x="279.48 283.32" y="418.90" text-anchor="middle" font-size="6.4" font-weight="bold" fill="#1a1a1a">VM</text>
<text class="mono" x="287.16" y="418.90" text-anchor="middle" font-size="6.4" font-weight="bold" fill="#b0cfe8">A</text>
<text class="mono" x="291.00 294.84 298.68 302.52 306.36 310.20 314.04 317.88" y="418.90" text-anchor="middle" font-size="6.4" font-weight="bold" fill="#1a1a1a">AENIPENP</text>
<text class="mono" x="321.72" y="418.90" text-anchor="middle" font-size="6.4" font-weight="bold" fill="#a8405f">L</text>
<text class="mono" x="325.56 329.40 333.24 337.08" y="418.90" text-anchor="middle" font-size="6.4" font-weight="bold" fill="#1a1a1a">KYLY</text>
<text x="21.6" y="427.20" font-size="7.4" fill="#222">STAT4</text>
<text class="mono" x="52.92 56.76 60.60" y="427.20" text-anchor="middle" font-size="6.4" font-weight="bold" fill="#1a1a1a">KMP</text>
<text class="mono" x="64.44 68.28 72.12 75.96 79.80 83.64 87.48 91.32 95.16 99.00" y="427.20" text-anchor="middle" font-size="6.4" font-weight="bold" fill="#a8405f">GTFLLRFSES</text>
<text class="mono" x="102.84 106.68" y="427.20" text-anchor="middle" font-size="6.4" font-weight="bold" fill="#1a1a1a">-H</text>
<text class="mono" x="110.52" y="427.20" text-anchor="middle" font-size="6.4" font-weight="bold" fill="#b0cfe8">L</text>
<text class="mono" x="114.36" y="427.20" text-anchor="middle" font-size="6.4" font-weight="bold" fill="#a8405f">G</text>
<text class="mono" x="118.20" y="427.20" text-anchor="middle" font-size="6.4" font-weight="bold" fill="#b0cfe8">G</text>
<text class="mono" x="122.04" y="427.20" text-anchor="middle" font-size="6.4" font-weight="bold" fill="#1a1a1a">I</text>
<text class="mono" x="125.88" y="427.20" text-anchor="middle" font-size="6.4" font-weight="bold" fill="#a8405f">T</text>
<text class="mono" x="129.72 133.56 137.40 141.24 145.08 148.92 152.76 156.60 160.44 164.28 168.12 171.96 175.80 179.64 183.48 187.32 191.16 195.00 198.84" y="427.20" text-anchor="middle" font-size="6.4" font-weight="bold" fill="#1a1a1a">FTWVDHSESG-EVRFHSVE</text>
<text class="mono" x="202.68" y="427.20" text-anchor="middle" font-size="6.4" font-weight="bold" fill="#a8405f">P</text>
<text class="mono" x="206.52" y="427.20" text-anchor="middle" font-size="6.4" font-weight="bold" fill="#b0cfe8">Y</text>
<text class="mono" x="210.36 214.20 218.04 221.88 225.72 229.56" y="427.20" text-anchor="middle" font-size="6.4" font-weight="bold" fill="#1a1a1a">NKGRLS</text>
<text class="mono" x="233.40" y="427.20" text-anchor="middle" font-size="6.4" font-weight="bold" fill="#b0cfe8">A</text>
<text class="mono" x="237.24 241.08 244.92 248.76 252.60 256.44 260.28 264.12 267.96 271.80" y="427.20" text-anchor="middle" font-size="6.4" font-weight="bold" fill="#1a1a1a">LPFADILRDY</text>
<text class="mono" x="275.64" y="427.20" text-anchor="middle" font-size="6.4" font-weight="bold" fill="#b0cfe8">K</text>
<text class="mono" x="279.48 283.32" y="427.20" text-anchor="middle" font-size="6.4" font-weight="bold" fill="#1a1a1a">VI</text>
<text class="mono" x="287.16" y="427.20" text-anchor="middle" font-size="6.4" font-weight="bold" fill="#b0cfe8">M</text>
<text class="mono" x="291.00 294.84 298.68 302.52 306.36 310.20 314.04 317.88" y="427.20" text-anchor="middle" font-size="6.4" font-weight="bold" fill="#1a1a1a">AENIPENP</text>
<text class="mono" x="321.72" y="427.20" text-anchor="middle" font-size="6.4" font-weight="bold" fill="#a8405f">L</text>
<text class="mono" x="325.56 329.40 333.24 337.08" y="427.20" text-anchor="middle" font-size="6.4" font-weight="bold" fill="#1a1a1a">KYLY</text>
<text x="21.6" y="435.50" font-size="7.4" fill="#222">STAT2</text>
<text class="mono" x="52.92 56.76 60.60" y="435.50" text-anchor="middle" font-size="6.4" font-weight="bold" fill="#1a1a1a">TMS</text>
<text class="mono" x="64.44 68.28 72.12 75.96 79.80 83.64 87.48 91.32 95.16 99.00" y="435.50" text-anchor="middle" font-size="6.4" font-weight="bold" fill="#a8405f">GTFLLRFSES</text>
<text class="mono" x="102.84 106.68" y="435.50" text-anchor="middle" font-size="6.4" font-weight="bold" fill="#1a1a1a">-S</text>
<text class="mono" x="110.52" y="435.50" text-anchor="middle" font-size="6.4" font-weight="bold" fill="#b0cfe8">E</text>
<text class="mono" x="114.36" y="435.50" text-anchor="middle" font-size="6.4" font-weight="bold" fill="#a8405f">G</text>
<text class="mono" x="118.20" y="435.50" text-anchor="middle" font-size="6.4" font-weight="bold" fill="#b0cfe8">G</text>
<text class="mono" x="122.04" y="435.50" text-anchor="middle" font-size="6.4" font-weight="bold" fill="#1a1a1a">I</text>
<text class="mono" x="125.88" y="435.50" text-anchor="middle" font-size="6.4" font-weight="bold" fill="#a8405f">T</text>
<text class="mono" x="129.72 133.56 137.40 141.24 145.08 148.92 152.76 156.60 160.44 164.28 168.12 171.96 175.80 179.64 183.48 187.32 191.16 195.00 198.84" y="435.50" text-anchor="middle" font-size="6.4" font-weight="bold" fill="#1a1a1a">CSWVEHQDDD-KVLIYSVQ</text>
<text class="mono" x="202.68" y="435.50" text-anchor="middle" font-size="6.4" font-weight="bold" fill="#a8405f">P</text>
<text class="mono" x="206.52" y="435.50" text-anchor="middle" font-size="6.4" font-weight="bold" fill="#b0cfe8">Y</text>
<text class="mono" x="210.36 214.20 218.04 221.88 225.72 229.56" y="435.50" text-anchor="middle" font-size="6.4" font-weight="bold" fill="#1a1a1a">TKEVLQ</text>
<text class="mono" x="233.40" y="435.50" text-anchor="middle" font-size="6.4" font-weight="bold" fill="#b0cfe8">S</text>
<text class="mono" x="237.24 241.08 244.92 248.76 252.60 256.44 260.28 264.12 267.96 271.80" y="435.50" text-anchor="middle" font-size="6.4" font-weight="bold" fill="#1a1a1a">LPLTEIIRHY</text>
<text class="mono" x="275.64" y="435.50" text-anchor="middle" font-size="6.4" font-weight="bold" fill="#b0cfe8">Q</text>
<text class="mono" x="279.48 283.32" y="435.50" text-anchor="middle" font-size="6.4" font-weight="bold" fill="#1a1a1a">LL</text>
<text class="mono" x="287.16" y="435.50" text-anchor="middle" font-size="6.4" font-weight="bold" fill="#b0cfe8">T</text>
<text class="mono" x="291.00 294.84 298.68 302.52 306.36 310.20 314.04 317.88" y="435.50" text-anchor="middle" font-size="6.4" font-weight="bold" fill="#1a1a1a">EENIPENP</text>
<text class="mono" x="321.72" y="435.50" text-anchor="middle" font-size="6.4" font-weight="bold" fill="#a8405f">L</text>
<text class="mono" x="325.56 329.40 333.24 337.08" y="435.50" text-anchor="middle" font-size="6.4" font-weight="bold" fill="#1a1a1a">RFLY</text>
<text x="21.6" y="443.80" font-size="7.4" fill="#222">STAT5A</text>
<text class="mono" x="52.92 56.76 60.60" y="443.80" text-anchor="middle" font-size="6.4" font-weight="bold" fill="#1a1a1a">KPD</text>
<text class="mono" x="64.44 68.28 72.12 75.96 79.80 83.64 87.48 91.32 95.16 99.00" y="443.80" text-anchor="middle" font-size="6.4" font-weight="bold" fill="#a8405f">GTFLLRFSDS</text>
<text class="mono" x="102.84 106.68" y="443.80" text-anchor="middle" font-size="6.4" font-weight="bold" fill="#1a1a1a">-E</text>
<text class="mono" x="110.52" y="443.80" text-anchor="middle" font-size="6.4" font-weight="bold" fill="#b0cfe8">I</text>
<text class="mono" x="114.36" y="443.80" text-anchor="middle" font-size="6.4" font-weight="bold" fill="#a8405f">G</text>
<text class="mono" x="118.20" y="443.80" text-anchor="middle" font-size="6.4" font-weight="bold" fill="#b0cfe8">G</text>
<text class="mono" x="122.04" y="443.80" text-anchor="middle" font-size="6.4" font-weight="bold" fill="#1a1a1a">I</text>
<text class="mono" x="125.88" y="443.80" text-anchor="middle" font-size="6.4" font-weight="bold" fill="#a8405f">T</text>
<text class="mono" x="129.72 133.56 137.40 141.24 145.08 148.92 152.76 156.60 160.44 164.28 168.12 171.96 175.80 179.64 183.48 187.32 191.16 195.00 198.84" y="443.80" text-anchor="middle" font-size="6.4" font-weight="bold" fill="#1a1a1a">IAWK-FDSPER--NLWNLK</text>
<text class="mono" x="202.68" y="443.80" text-anchor="middle" font-size="6.4" font-weight="bold" fill="#a8405f">P</text>
<text class="mono" x="206.52" y="443.80" text-anchor="middle" font-size="6.4" font-weight="bold" fill="#b0cfe8">F</text>
<text class="mono" x="210.36 214.20 218.04 221.88 225.72 229.56" y="443.80" text-anchor="middle" font-size="6.4" font-weight="bold" fill="#1a1a1a">TTRDFS</text>
<text class="mono" x="233.40" y="443.80" text-anchor="middle" font-size="6.4" font-weight="bold" fill="#b0cfe8">I</text>
<text class="mono" x="237.24 241.08 244.92 248.76 252.60 256.44 260.28 264.12 267.96 271.80 275.64 279.48 283.32 287.16 291.00 294.84 298.68 302.52 306.36 310.20 314.04 317.88" y="443.80" text-anchor="middle" font-size="6.4" font-weight="bold" fill="#1a1a1a">RSLADRLG----------DLSY</text>
<text class="mono" x="321.72" y="443.80" text-anchor="middle" font-size="6.4" font-weight="bold" fill="#a8405f">L</text>
<text class="mono" x="325.56 329.40 333.24 337.08" y="443.80" text-anchor="middle" font-size="6.4" font-weight="bold" fill="#1a1a1a">IYVF</text>
<text x="21.6" y="452.10" font-size="7.4" fill="#222">STAT5B</text>
<text class="mono" x="52.92 56.76 60.60" y="452.10" text-anchor="middle" font-size="6.4" font-weight="bold" fill="#1a1a1a">KPD</text>
<text class="mono" x="64.44 68.28 72.12 75.96 79.80 83.64 87.48 91.32 95.16 99.00" y="452.10" text-anchor="middle" font-size="6.4" font-weight="bold" fill="#a8405f">GTFLLRFSDS</text>
<text class="mono" x="102.84 106.68" y="452.10" text-anchor="middle" font-size="6.4" font-weight="bold" fill="#1a1a1a">-E</text>
<text class="mono" x="110.52" y="452.10" text-anchor="middle" font-size="6.4" font-weight="bold" fill="#b0cfe8">I</text>
<text class="mono" x="114.36" y="452.10" text-anchor="middle" font-size="6.4" font-weight="bold" fill="#a8405f">G</text>
<text class="mono" x="118.20" y="452.10" text-anchor="middle" font-size="6.4" font-weight="bold" fill="#b0cfe8">G</text>
<text class="mono" x="122.04" y="452.10" text-anchor="middle" font-size="6.4" font-weight="bold" fill="#1a1a1a">I</text>
<text class="mono" x="125.88" y="452.10" text-anchor="middle" font-size="6.4" font-weight="bold" fill="#a8405f">T</text>
<text class="mono" x="129.72 133.56 137.40 141.24 145.08 148.92 152.76 156.60 160.44 164.28 168.12 171.96 175.80 179.64 183.48 187.32 191.16 195.00 198.84" y="452.10" text-anchor="middle" font-size="6.4" font-weight="bold" fill="#1a1a1a">IAWK-FDSQER--MFWNLM</text>
<text class="mono" x="202.68" y="452.10" text-anchor="middle" font-size="6.4" font-weight="bold" fill="#a8405f">P</text>
<text class="mono" x="206.52" y="452.10" text-anchor="middle" font-size="6.4" font-weight="bold" fill="#b0cfe8">F</text>
<text class="mono" x="210.36 214.20 218.04 221.88 225.72 229.56" y="452.10" text-anchor="middle" font-size="6.4" font-weight="bold" fill="#1a1a1a">TTRDFS</text>
<text class="mono" x="233.40" y="452.10" text-anchor="middle" font-size="6.4" font-weight="bold" fill="#b0cfe8">I</text>
<text class="mono" x="237.24 241.08 244.92 248.76 252.60 256.44 260.28 264.12 267.96 271.80 275.64 279.48 283.32 287.16 291.00 294.84 298.68 302.52 306.36 310.20 314.04 317.88" y="452.10" text-anchor="middle" font-size="6.4" font-weight="bold" fill="#1a1a1a">RSLADRLG----------DLNY</text>
<text class="mono" x="321.72" y="452.10" text-anchor="middle" font-size="6.4" font-weight="bold" fill="#a8405f">L</text>
<text class="mono" x="325.56 329.40 333.24 337.08" y="452.10" text-anchor="middle" font-size="6.4" font-weight="bold" fill="#1a1a1a">IYVF</text>
<text x="21.6" y="460.40" font-size="7.4" fill="#222">STAT6</text>
<text class="mono" x="52.92 56.76 60.60" y="460.40" text-anchor="middle" font-size="6.4" font-weight="bold" fill="#1a1a1a">EPD</text>
<text class="mono" x="64.44 68.28 72.12 75.96 79.80 83.64 87.48 91.32 95.16 99.00" y="460.40" text-anchor="middle" font-size="6.4" font-weight="bold" fill="#a8405f">GTFLLRFSDS</text>
<text class="mono" x="102.84 106.68" y="460.40" text-anchor="middle" font-size="6.4" font-weight="bold" fill="#1a1a1a">-E</text>
<text class="mono" x="110.52" y="460.40" text-anchor="middle" font-size="6.4" font-weight="bold" fill="#b0cfe8">I</text>
<text class="mono" x="114.36" y="460.40" text-anchor="middle" font-size="6.4" font-weight="bold" fill="#a8405f">G</text>
<text class="mono" x="118.20" y="460.40" text-anchor="middle" font-size="6.4" font-weight="bold" fill="#b0cfe8">G</text>
<text class="mono" x="122.04" y="460.40" text-anchor="middle" font-size="6.4" font-weight="bold" fill="#1a1a1a">I</text>
<text class="mono" x="125.88" y="460.40" text-anchor="middle" font-size="6.4" font-weight="bold" fill="#a8405f">T</text>
<text class="mono" x="129.72 133.56 137.40 141.24 145.08 148.92 152.76 156.60 160.44 164.28 168.12 171.96 175.80 179.64 183.48 187.32 191.16 195.00 198.84" y="460.40" text-anchor="middle" font-size="6.4" font-weight="bold" fill="#1a1a1a">IAHV-IRGQDGSPQIENIQ</text>
<text class="mono" x="202.68" y="460.40" text-anchor="middle" font-size="6.4" font-weight="bold" fill="#a8405f">P</text>
<text class="mono" x="206.52" y="460.40" text-anchor="middle" font-size="6.4" font-weight="bold" fill="#b0cfe8">F</text>
<text class="mono" x="210.36 214.20 218.04 221.88 225.72 229.56" y="460.40" text-anchor="middle" font-size="6.4" font-weight="bold" fill="#1a1a1a">SAKDLS</text>
<text class="mono" x="233.40" y="460.40" text-anchor="middle" font-size="6.4" font-weight="bold" fill="#b0cfe8">I</text>
<text class="mono" x="237.24 241.08 244.92 248.76 252.60 256.44 260.28 264.12 267.96 271.80 275.64 279.48 283.32 287.16 291.00 294.84 298.68 302.52 306.36 310.20 314.04 317.88" y="460.40" text-anchor="middle" font-size="6.4" font-weight="bold" fill="#1a1a1a">RSLGDRIR----------DLAQ</text>
<text class="mono" x="321.72" y="460.40" text-anchor="middle" font-size="6.4" font-weight="bold" fill="#a8405f">L</text>
<text class="mono" x="325.56 329.40 333.24 337.08" y="460.40" text-anchor="middle" font-size="6.4" font-weight="bold" fill="#1a1a1a">KNLY</text>
<text transform="translate(105.14,402.7) rotate(-90)" font-size="6.9" fill="#8fb2d2">S614</text>
<text transform="translate(112.82,402.7) rotate(-90)" font-size="6.9" fill="#8fb2d2">E616</text>
<text transform="translate(120.50,402.7) rotate(-90)" font-size="6.9" fill="#8fb2d2">G618</text>
<text transform="translate(208.82,402.7) rotate(-90)" font-size="6.9" fill="#8fb2d2">Y640</text>
<text transform="translate(235.70,402.7) rotate(-90)" font-size="6.9" fill="#8fb2d2">N647</text>
<text transform="translate(277.94,402.7) rotate(-90)" font-size="6.9" fill="#8fb2d2">K658</text>
<text transform="translate(289.46,402.7) rotate(-90)" font-size="6.9" fill="#8fb2d2">D661</text>
<line x1="62.52" y1="472.3" x2="100.92" y2="472.3" stroke="#b9bf8e" stroke-width="2.2"/>
<text x="81.72" y="481.8" text-anchor="middle" font-size="8.4" fill="#333">βB</text>
<line x1="112.44" y1="472.3" x2="139.32" y2="472.3" stroke="#b9bf8e" stroke-width="2.2"/>
<text x="125.88" y="481.8" text-anchor="middle" font-size="8.4" fill="#333">βC</text>
<line x1="185.40" y1="472.3" x2="204.60" y2="472.3" stroke="#b9bf8e" stroke-width="2.2"/>
<text x="195.00" y="481.8" text-anchor="middle" font-size="8.4" fill="#333">βD</text>
<circle cx="83.0" cy="466.1" r="2.5" fill="#e39a2a"/>
<circle cx="91.0" cy="466.1" r="2.5" fill="#e39a2a"/>
<circle cx="99.0" cy="466.1" r="2.5" fill="#e39a2a"/>
<circle cx="244.3" cy="469.8" r="2.5" fill="#e39a2a"/>
<text x="254.8" y="472.4" font-size="8.2" fill="#222">Phosphotyrosine binding</text>
<line x1="238.8" y1="478.1" x2="249.6" y2="478.1" stroke="#b9bf8e" stroke-width="2.2"/>
<text x="252.8" y="480.6" font-size="8.2" fill="#222">β-strand</text>
</g>
<g id="panelD">
<clipPath id="dclip"><rect x="355" y="238" width="157" height="200"/></clipPath>
<g clip-path="url(#dclip)">
<path d="M427.7 303.9 C429.1 303.7 433.5 303.5 435.8 302.7 C438.1 301.9 439.6 300.6 441.5 299.3 C443.4 298.0 445.4 295.4 447.3 294.6 C449.2 293.8 451.1 294.0 453.0 294.6 C454.9 295.2 457.1 296.9 458.8 298.0 C460.6 299.1 462.7 300.9 463.5 301.5" stroke="#6f94bc" stroke-width="2.6" fill="none" stroke-linecap="round" stroke-linejoin="round"/>
<path d="M427.7 303.9 C429.1 303.7 433.5 303.5 435.8 302.7 C438.1 301.9 439.6 300.6 441.5 299.3 C443.4 298.0 445.4 295.4 447.3 294.6 C449.2 293.8 451.1 294.0 453.0 294.6 C454.9 295.2 457.1 296.9 458.8 298.0 C460.6 299.1 462.7 300.9 463.5 301.5" stroke="#9ab8d6" stroke-width="1.09" fill="none" stroke-linecap="round" stroke-linejoin="round"/>
<path d="M431.9 303.4 C432.3 304.5 433.2 308.1 434.1 310.1 C435.0 312.2 436.6 313.8 437.5 315.7 C438.4 317.6 439.7 320.0 439.7 321.3 C439.7 322.6 438.6 322.9 437.5 323.5 C436.4 324.1 433.8 324.5 433.0 324.7" stroke="#8fb6d8" stroke-width="3.0" fill="none" stroke-linecap="round" stroke-linejoin="round"/>
<path d="M431.9 303.4 C432.3 304.5 433.2 308.1 434.1 310.1 C435.0 312.2 436.6 313.8 437.5 315.7 C438.4 317.6 439.7 320.0 439.7 321.3 C439.7 322.6 438.6 322.9 437.5 323.5 C436.4 324.1 433.8 324.5 433.0 324.7" stroke="#bcd6ec" stroke-width="1.26" fill="none" stroke-linecap="round" stroke-linejoin="round"/>
<path d="M381.0 322.8 C382.8 323.0 388.2 323.5 392.0 323.8 C395.8 324.1 401.8 324.3 403.8 324.4" stroke="#9ab4cc" stroke-width="2.2" fill="none" stroke-linecap="round" stroke-linejoin="round"/>
<path d="M381.0 322.8 C382.8 323.0 388.2 323.5 392.0 323.8 C395.8 324.1 401.8 324.3 403.8 324.4" stroke="#c4d6e6" stroke-width="0.92" fill="none" stroke-linecap="round" stroke-linejoin="round"/>
<path d="M427.8 356.8 C428.2 356.4 429.2 354.9 430.2 354.4 C431.2 353.9 432.9 353.6 433.9 353.8 C434.9 354.0 435.8 354.6 436.3 355.6 C436.8 356.6 436.9 359.3 437.0 360.0" stroke="#9ab4cc" stroke-width="2.3" fill="none" stroke-linecap="round" stroke-linejoin="round"/>
<path d="M427.8 356.8 C428.2 356.4 429.2 354.9 430.2 354.4 C431.2 353.9 432.9 353.6 433.9 353.8 C434.9 354.0 435.8 354.6 436.3 355.6 C436.8 356.6 436.9 359.3 437.0 360.0" stroke="#c4d6e6" stroke-width="0.97" fill="none" stroke-linecap="round" stroke-linejoin="round"/>
<path d="M423.3 360.0 C422.8 361.0 421.1 364.2 420.0 366.0 C418.9 367.8 418.1 369.0 416.8 371.0 C415.5 373.0 413.4 376.0 412.0 378.0 C410.6 380.0 409.2 382.0 408.7 382.8" stroke="#8ab4dc" stroke-width="2.4" fill="none" stroke-linecap="round" stroke-linejoin="round"/>
<path d="M423.3 360.0 C422.8 361.0 421.1 364.2 420.0 366.0 C418.9 367.8 418.1 369.0 416.8 371.0 C415.5 373.0 413.4 376.0 412.0 378.0 C410.6 380.0 409.2 382.0 408.7 382.8" stroke="#b8d4ee" stroke-width="1.01" fill="none" stroke-linecap="round" stroke-linejoin="round"/>
<path d="M471.7 348.3 C472.3 348.3 473.9 348.0 475.3 348.3 C476.7 348.6 479.2 349.7 480.0 350.0" stroke="#9ab4cc" stroke-width="2.2" fill="none" stroke-linecap="round" stroke-linejoin="round"/>
<path d="M471.7 348.3 C472.3 348.3 473.9 348.0 475.3 348.3 C476.7 348.6 479.2 349.7 480.0 350.0" stroke="#c4d6e6" stroke-width="0.92" fill="none" stroke-linecap="round" stroke-linejoin="round"/>
<path d="M471.8 388.8 C473.4 387.8 478.2 385.3 481.5 383.0 C484.8 380.7 488.9 377.3 491.3 375.0 C493.7 372.7 495.3 370.2 496.1 369.3" stroke="#7ea8d2" stroke-width="2.4" fill="none" stroke-linecap="round" stroke-linejoin="round"/>
<path d="M471.8 388.8 C473.4 387.8 478.2 385.3 481.5 383.0 C484.8 380.7 488.9 377.3 491.3 375.0 C493.7 372.7 495.3 370.2 496.1 369.3" stroke="#a8c8e8" stroke-width="1.01" fill="none" stroke-linecap="round" stroke-linejoin="round"/>
<path d="M470.0 298.0 C471.0 297.5 474.0 295.2 476.0 295.0 C478.0 294.8 480.3 295.8 482.0 297.0 C483.7 298.2 485.7 300.2 486.0 302.0 C486.3 303.8 485.3 306.3 484.0 308.0 C482.7 309.7 480.3 311.3 478.0 312.0 C475.7 312.7 471.3 312.0 470.0 312.0" stroke="#6f97c6" stroke-width="2.3" fill="none" stroke-linecap="round" stroke-linejoin="round"/>
<path d="M470.0 298.0 C471.0 297.5 474.0 295.2 476.0 295.0 C478.0 294.8 480.3 295.8 482.0 297.0 C483.7 298.2 485.7 300.2 486.0 302.0 C486.3 303.8 485.3 306.3 484.0 308.0 C482.7 309.7 480.3 311.3 478.0 312.0 C475.7 312.7 471.3 312.0 470.0 312.0" stroke="#9dbde0" stroke-width="0.97" fill="none" stroke-linecap="round" stroke-linejoin="round"/>
<path d="M412.0 392.5 C413.0 392.8 416.3 393.7 418.0 394.0 C419.7 394.3 421.3 394.4 422.0 394.5" stroke="#8ab4dc" stroke-width="2.6" fill="none" stroke-linecap="round" stroke-linejoin="round"/>
<path d="M412.0 392.5 C413.0 392.8 416.3 393.7 418.0 394.0 C419.7 394.3 421.3 394.4 422.0 394.5" stroke="#b8d4ee" stroke-width="1.09" fill="none" stroke-linecap="round" stroke-linejoin="round"/>
<path d="M416.0 389.0 C417.0 388.7 420.2 386.7 422.0 387.0 C423.8 387.3 426.7 389.5 427.0 391.0 C427.3 392.5 425.5 395.2 424.0 396.0 C422.5 396.8 419.3 397.2 418.0 396.0 C416.7 394.8 416.3 390.2 416.0 389.0 Z" fill="#9cc4ec"/>
<path d="M396.7 252.5 C397.4 251.9 399.5 250.5 401.2 249.2 C402.9 247.9 404.9 245.7 406.8 244.7 C408.7 243.7 410.8 243.0 412.4 243.0 C414.0 243.0 415.4 243.7 416.3 244.7 C417.2 245.7 417.6 247.5 418.0 249.2 C418.4 250.9 418.2 253.1 418.5 254.8 C418.8 256.5 419.0 257.9 419.6 259.2 C420.2 260.5 421.2 261.3 421.9 262.6 C422.5 263.9 423.0 265.6 423.5 267.1 C424.0 268.6 424.3 269.8 424.7 271.5 C425.1 273.2 425.4 275.2 425.8 277.1 C426.2 279.0 426.5 281.0 426.9 282.7 C427.3 284.4 427.5 286.1 428.0 287.5 C428.5 288.9 429.1 290.2 430.0 291.2 C430.9 292.2 432.2 293.1 433.5 293.5 C434.8 293.9 436.3 294.1 438.0 293.5 C439.7 292.9 442.2 290.9 443.8 290.0 C445.4 289.1 446.3 288.3 447.3 288.3 C448.3 288.3 448.5 288.9 449.6 290.0 C450.8 291.1 452.7 293.4 454.2 294.6 C455.7 295.8 458.0 296.6 458.8 297.0" stroke="#1b3c8a" stroke-width="2.4" fill="none" stroke-linecap="round" stroke-linejoin="round"/>
<path d="M396.7 252.5 C397.4 251.9 399.5 250.5 401.2 249.2 C402.9 247.9 404.9 245.7 406.8 244.7 C408.7 243.7 410.8 243.0 412.4 243.0 C414.0 243.0 415.4 243.7 416.3 244.7 C417.2 245.7 417.6 247.5 418.0 249.2 C418.4 250.9 418.2 253.1 418.5 254.8 C418.8 256.5 419.0 257.9 419.6 259.2 C420.2 260.5 421.2 261.3 421.9 262.6 C422.5 263.9 423.0 265.6 423.5 267.1 C424.0 268.6 424.3 269.8 424.7 271.5 C425.1 273.2 425.4 275.2 425.8 277.1 C426.2 279.0 426.5 281.0 426.9 282.7 C427.3 284.4 427.5 286.1 428.0 287.5 C428.5 288.9 429.1 290.2 430.0 291.2 C430.9 292.2 432.2 293.1 433.5 293.5 C434.8 293.9 436.3 294.1 438.0 293.5 C439.7 292.9 442.2 290.9 443.8 290.0 C445.4 289.1 446.3 288.3 447.3 288.3 C448.3 288.3 448.5 288.9 449.6 290.0 C450.8 291.1 452.7 293.4 454.2 294.6 C455.7 295.8 458.0 296.6 458.8 297.0" stroke="#2c55ab" stroke-width="1.01" fill="none" stroke-linecap="round" stroke-linejoin="round"/>
<path d="M398.0 252.5 C398.5 252.6 400.5 252.1 401.2 253.0 C401.9 253.9 402.0 256.3 402.3 258.1 C402.6 259.9 402.5 262.0 402.9 263.7 C403.3 265.4 403.7 267.2 404.5 268.2 C405.3 269.2 406.6 269.9 407.9 269.9 C409.2 269.9 410.7 268.8 412.4 268.2 C414.1 267.6 416.4 267.1 418.0 266.5 C419.6 265.9 421.2 265.1 421.9 264.8" stroke="#1b3c8a" stroke-width="2.4" fill="none" stroke-linecap="round" stroke-linejoin="round"/>
<path d="M398.0 252.5 C398.5 252.6 400.5 252.1 401.2 253.0 C401.9 253.9 402.0 256.3 402.3 258.1 C402.6 259.9 402.5 262.0 402.9 263.7 C403.3 265.4 403.7 267.2 404.5 268.2 C405.3 269.2 406.6 269.9 407.9 269.9 C409.2 269.9 410.7 268.8 412.4 268.2 C414.1 267.6 416.4 267.1 418.0 266.5 C419.6 265.9 421.2 265.1 421.9 264.8" stroke="#2c55ab" stroke-width="1.01" fill="none" stroke-linecap="round" stroke-linejoin="round"/>
<path d="M421.5 263.5 C420.5 264.1 418.0 265.7 415.7 267.0 C413.4 268.3 409.6 270.2 407.9 271.5 C406.2 272.8 405.9 273.6 405.7 274.9 C405.5 276.2 406.0 278.1 406.8 279.4 C407.6 280.7 409.8 281.6 410.7 282.7 C411.6 283.8 412.1 284.4 412.4 286.1 C412.7 287.8 412.4 291.2 412.4 292.8 C412.4 294.4 412.1 294.6 412.3 296.0 C412.5 297.4 413.2 300.3 413.4 301.2" stroke="#1b3c8a" stroke-width="2.4" fill="none" stroke-linecap="round" stroke-linejoin="round"/>
<path d="M421.5 263.5 C420.5 264.1 418.0 265.7 415.7 267.0 C413.4 268.3 409.6 270.2 407.9 271.5 C406.2 272.8 405.9 273.6 405.7 274.9 C405.5 276.2 406.0 278.1 406.8 279.4 C407.6 280.7 409.8 281.6 410.7 282.7 C411.6 283.8 412.1 284.4 412.4 286.1 C412.7 287.8 412.4 291.2 412.4 292.8 C412.4 294.4 412.1 294.6 412.3 296.0 C412.5 297.4 413.2 300.3 413.4 301.2" stroke="#2c55ab" stroke-width="1.01" fill="none" stroke-linecap="round" stroke-linejoin="round"/>
<path d="M452.3 274.9 C452.6 274.0 453.4 271.4 454.0 269.3 C454.6 267.2 454.9 264.8 455.7 262.6 C456.5 260.4 457.7 258.1 459.0 255.9 C460.3 253.7 462.0 250.9 463.5 249.2 C465.0 247.5 466.4 246.4 468.0 245.8 C469.6 245.2 471.7 245.4 473.0 245.8 C474.3 246.2 475.0 247.0 475.8 248.1 C476.6 249.2 477.1 251.0 478.0 252.5 C478.9 254.0 480.1 256.0 481.4 257.0 C482.7 258.0 484.3 258.5 485.8 258.7 C487.3 258.9 488.8 258.3 490.3 258.1 C491.8 257.9 493.1 258.0 495.0 257.6 C496.9 257.2 499.6 255.9 501.4 256.0 C503.1 256.1 504.6 257.0 505.5 258.0 C506.4 259.0 506.8 260.5 506.5 262.2 C506.2 263.9 505.0 266.6 503.5 268.3 C502.0 270.0 499.4 271.0 497.4 272.4 C495.4 273.8 492.8 274.7 491.3 276.4 C489.8 278.1 488.6 280.5 488.2 282.5 C487.8 284.5 488.0 287.4 489.2 288.6 C490.4 289.8 492.6 289.4 495.3 289.6 C498.0 289.8 502.6 289.6 505.5 289.6 C508.4 289.6 511.8 289.6 513.0 289.6" stroke="#1b3c8a" stroke-width="2.3" fill="none" stroke-linecap="round" stroke-linejoin="round"/>
<path d="M452.3 274.9 C452.6 274.0 453.4 271.4 454.0 269.3 C454.6 267.2 454.9 264.8 455.7 262.6 C456.5 260.4 457.7 258.1 459.0 255.9 C460.3 253.7 462.0 250.9 463.5 249.2 C465.0 247.5 466.4 246.4 468.0 245.8 C469.6 245.2 471.7 245.4 473.0 245.8 C474.3 246.2 475.0 247.0 475.8 248.1 C476.6 249.2 477.1 251.0 478.0 252.5 C478.9 254.0 480.1 256.0 481.4 257.0 C482.7 258.0 484.3 258.5 485.8 258.7 C487.3 258.9 488.8 258.3 490.3 258.1 C491.8 257.9 493.1 258.0 495.0 257.6 C496.9 257.2 499.6 255.9 501.4 256.0 C503.1 256.1 504.6 257.0 505.5 258.0 C506.4 259.0 506.8 260.5 506.5 262.2 C506.2 263.9 505.0 266.6 503.5 268.3 C502.0 270.0 499.4 271.0 497.4 272.4 C495.4 273.8 492.8 274.7 491.3 276.4 C489.8 278.1 488.6 280.5 488.2 282.5 C487.8 284.5 488.0 287.4 489.2 288.6 C490.4 289.8 492.6 289.4 495.3 289.6 C498.0 289.8 502.6 289.6 505.5 289.6 C508.4 289.6 511.8 289.6 513.0 289.6" stroke="#2c55ab" stroke-width="0.97" fill="none" stroke-linecap="round" stroke-linejoin="round"/>
<path d="M452.3 274.9 C453.1 275.3 455.3 276.4 456.8 277.1 C458.3 277.9 459.9 278.8 461.2 279.4 C462.5 280.0 463.7 280.3 464.6 281.0 C465.5 281.7 466.3 282.5 466.8 283.5 C467.3 284.5 467.9 286.2 467.4 287.2 C466.9 288.2 464.9 289.6 464.0 289.4 C463.1 289.2 462.1 287.2 461.8 286.1 C461.5 285.0 461.9 284.0 462.4 282.7 C462.9 281.4 463.5 279.2 464.6 278.2 C465.7 277.2 467.5 277.2 469.0 276.6 C470.5 276.1 471.8 275.5 473.5 274.9 C475.2 274.3 477.6 273.4 479.1 273.2 C480.6 273.0 481.4 273.4 482.5 273.8 C483.6 274.2 484.9 274.8 485.8 275.5 C486.7 276.2 487.4 277.0 488.1 278.2 C488.9 279.4 489.6 281.2 490.3 282.7 C491.0 284.2 491.8 285.9 492.5 287.2 C493.2 288.5 494.4 289.9 494.8 290.5" stroke="#1b3c8a" stroke-width="2.3" fill="none" stroke-linecap="round" stroke-linejoin="round"/>
<path d="M452.3 274.9 C453.1 275.3 455.3 276.4 456.8 277.1 C458.3 277.9 459.9 278.8 461.2 279.4 C462.5 280.0 463.7 280.3 464.6 281.0 C465.5 281.7 466.3 282.5 466.8 283.5 C467.3 284.5 467.9 286.2 467.4 287.2 C466.9 288.2 464.9 289.6 464.0 289.4 C463.1 289.2 462.1 287.2 461.8 286.1 C461.5 285.0 461.9 284.0 462.4 282.7 C462.9 281.4 463.5 279.2 464.6 278.2 C465.7 277.2 467.5 277.2 469.0 276.6 C470.5 276.1 471.8 275.5 473.5 274.9 C475.2 274.3 477.6 273.4 479.1 273.2 C480.6 273.0 481.4 273.4 482.5 273.8 C483.6 274.2 484.9 274.8 485.8 275.5 C486.7 276.2 487.4 277.0 488.1 278.2 C488.9 279.4 489.6 281.2 490.3 282.7 C491.0 284.2 491.8 285.9 492.5 287.2 C493.2 288.5 494.4 289.9 494.8 290.5" stroke="#2c55ab" stroke-width="0.97" fill="none" stroke-linecap="round" stroke-linejoin="round"/>
<path d="M489.2 288.6 C489.0 290.0 488.0 294.0 488.2 296.7 C488.4 299.4 489.0 302.8 490.2 304.9 C491.4 306.9 493.1 308.0 495.3 309.0 C497.5 310.0 500.6 310.7 503.5 311.0 C506.4 311.3 511.4 311.0 513.0 311.0" stroke="#1b3c8a" stroke-width="2.3" fill="none" stroke-linecap="round" stroke-linejoin="round"/>
<path d="M489.2 288.6 C489.0 290.0 488.0 294.0 488.2 296.7 C488.4 299.4 489.0 302.8 490.2 304.9 C491.4 306.9 493.1 308.0 495.3 309.0 C497.5 310.0 500.6 310.7 503.5 311.0 C506.4 311.3 511.4 311.0 513.0 311.0" stroke="#2c55ab" stroke-width="0.97" fill="none" stroke-linecap="round" stroke-linejoin="round"/>
<path d="M466.0 288.0 C465.5 288.8 463.7 291.5 463.0 293.0 C462.3 294.5 462.2 295.2 461.7 296.9 C461.2 298.6 460.6 301.2 460.1 303.4 C459.6 305.6 458.8 308.8 458.5 309.9" stroke="#1b3c8a" stroke-width="2.3" fill="none" stroke-linecap="round" stroke-linejoin="round"/>
<path d="M466.0 288.0 C465.5 288.8 463.7 291.5 463.0 293.0 C462.3 294.5 462.2 295.2 461.7 296.9 C461.2 298.6 460.6 301.2 460.1 303.4 C459.6 305.6 458.8 308.8 458.5 309.9" stroke="#2c55ab" stroke-width="0.97" fill="none" stroke-linecap="round" stroke-linejoin="round"/>
<path d="M399.6 331.0 C400.3 331.6 402.5 333.8 404.0 334.5 C405.5 335.2 407.9 334.9 408.7 335.0" stroke="#8fb0cc" stroke-width="2.4" fill="none" stroke-linecap="round" stroke-linejoin="round"/>
<path d="M399.6 331.0 C400.3 331.6 402.5 333.8 404.0 334.5 C405.5 335.2 407.9 334.9 408.7 335.0" stroke="#b8cee2" stroke-width="1.01" fill="none" stroke-linecap="round" stroke-linejoin="round"/>
<path d="M381.0 322.5 C382.8 322.6 388.5 323.0 392.0 323.2 C395.5 323.4 400.3 323.7 402.0 323.8" stroke="#86b0cc" stroke-width="2.2" fill="none" stroke-linecap="round" stroke-linejoin="round"/>
<path d="M381.0 322.5 C382.8 322.6 388.5 323.0 392.0 323.2 C395.5 323.4 400.3 323.7 402.0 323.8" stroke="#b0cce0" stroke-width="0.92" fill="none" stroke-linecap="round" stroke-linejoin="round"/>
<path d="M409.0 306.0 C409.8 305.5 412.2 303.4 414.0 303.0 C415.8 302.6 418.3 302.7 420.0 303.5 C421.7 304.3 423.2 306.1 424.0 308.0 C424.8 309.9 425.3 312.9 425.0 315.0 C424.7 317.1 423.7 319.4 422.0 320.5 C420.3 321.6 416.8 321.9 415.0 321.5 C413.2 321.1 411.3 319.6 411.0 318.0 C410.7 316.4 413.3 314.0 413.0 312.0 C412.7 310.0 409.7 307.0 409.0 306.0 Z" fill="#3070bf"/>
<path d="M412.0 304.5 C412.8 304.4 415.5 303.5 417.0 303.8 C418.5 304.1 420.8 305.6 421.0 306.5 C421.2 307.4 419.2 308.7 418.0 309.0 C416.8 309.3 415.0 309.2 414.0 308.5 C413.0 307.8 412.3 305.2 412.0 304.5 Z" fill="#5a9cd8"/>
<path d="M414.0 313.0 C414.8 312.8 417.8 311.5 419.0 312.0 C420.2 312.5 421.7 314.8 421.5 316.0 C421.3 317.2 419.2 319.2 418.0 319.5 C416.8 319.8 415.2 319.1 414.5 318.0 C413.8 316.9 414.1 313.8 414.0 313.0 Z" fill="#7ab4e2"/>
<path d="M403.0 325.0 C404.0 324.6 406.7 322.9 409.0 322.5 C411.3 322.1 414.7 322.2 417.0 322.5 C419.3 322.8 421.8 322.8 423.0 324.0 C424.2 325.2 425.0 328.2 424.5 330.0 C424.0 331.8 422.4 334.1 420.0 335.0 C417.6 335.9 412.7 336.0 410.0 335.5 C407.3 335.0 405.2 333.8 404.0 332.0 C402.8 330.2 403.2 326.2 403.0 325.0 Z" fill="#2258b4"/>
<path d="M407.0 326.0 C408.0 325.8 411.0 324.6 413.0 324.5 C415.0 324.4 418.5 324.9 419.0 325.5 C419.5 326.1 417.5 327.5 416.0 328.0 C414.5 328.5 411.5 328.8 410.0 328.5 C408.5 328.2 407.5 326.4 407.0 326.0 Z" fill="#3e7ccc"/>
<path d="M398.0 324.0 C398.7 323.2 400.8 320.2 402.0 319.0 C403.2 317.8 404.5 317.3 405.0 317.0" stroke="#8ab4dc" stroke-width="2.4" fill="none" stroke-linecap="round" stroke-linejoin="round"/>
<path d="M398.0 324.0 C398.7 323.2 400.8 320.2 402.0 319.0 C403.2 317.8 404.5 317.3 405.0 317.0" stroke="#b8d4ee" stroke-width="1.01" fill="none" stroke-linecap="round" stroke-linejoin="round"/>
<path d="M376.6 353.0 C377.2 352.1 378.7 348.7 380.3 347.3 C381.9 345.9 383.8 345.2 386.4 344.9 C389.0 344.6 393.2 345.3 396.1 345.5 C399.0 345.7 401.1 346.2 403.5 346.1 C405.9 346.0 408.7 345.4 410.8 344.9 C412.9 344.4 415.1 343.3 416.0 343.0" stroke="#1b3c8a" stroke-width="2.6" fill="none" stroke-linecap="round" stroke-linejoin="round"/>
<path d="M376.6 353.0 C377.2 352.1 378.7 348.7 380.3 347.3 C381.9 345.9 383.8 345.2 386.4 344.9 C389.0 344.6 393.2 345.3 396.1 345.5 C399.0 345.7 401.1 346.2 403.5 346.1 C405.9 346.0 408.7 345.4 410.8 344.9 C412.9 344.4 415.1 343.3 416.0 343.0" stroke="#2c55ab" stroke-width="1.09" fill="none" stroke-linecap="round" stroke-linejoin="round"/>
<path d="M416.0 343.0 C417.0 342.8 420.0 342.0 422.0 342.0 C424.0 342.0 427.0 342.8 428.0 343.0" stroke="#2a8aa8" stroke-width="2.4" fill="none" stroke-linecap="round" stroke-linejoin="round"/>
<path d="M416.0 343.0 C417.0 342.8 420.0 342.0 422.0 342.0 C424.0 342.0 427.0 342.8 428.0 343.0" stroke="#50b0c8" stroke-width="1.01" fill="none" stroke-linecap="round" stroke-linejoin="round"/>
<path d="M380.3 347.3 C379.7 348.1 377.2 350.2 376.6 352.2 C376.0 354.2 376.0 357.3 376.6 359.5 C377.2 361.7 378.7 364.2 380.3 365.6 C381.9 367.0 385.4 367.6 386.4 368.0" stroke="#1b3c8a" stroke-width="2.8" fill="none" stroke-linecap="round" stroke-linejoin="round"/>
<path d="M380.3 347.3 C379.7 348.1 377.2 350.2 376.6 352.2 C376.0 354.2 376.0 357.3 376.6 359.5 C377.2 361.7 378.7 364.2 380.3 365.6 C381.9 367.0 385.4 367.6 386.4 368.0" stroke="#2c55ab" stroke-width="1.18" fill="none" stroke-linecap="round" stroke-linejoin="round"/>
<path d="M378.5 361.0 C379.1 361.9 380.6 365.2 382.0 366.5 C383.4 367.8 385.3 368.6 387.0 368.5 C388.7 368.4 390.4 367.2 392.0 366.0 C393.6 364.8 395.0 362.2 396.5 361.0 C398.0 359.8 399.6 358.5 401.0 358.5 C402.4 358.5 404.3 360.6 405.0 361.0" stroke="#1a48a5" stroke-width="6.4" fill="none" stroke-linecap="butt" stroke-linejoin="round"/>
<path d="M378.5 361.0 C379.1 361.9 380.6 365.2 382.0 366.5 C383.4 367.8 385.3 368.6 387.0 368.5 C388.7 368.4 390.4 367.2 392.0 366.0 C393.6 364.8 395.0 362.2 396.5 361.0 C398.0 359.8 399.6 358.5 401.0 358.5 C402.4 358.5 404.3 360.6 405.0 361.0" stroke="#2a5cb8" stroke-width="2.40" fill="none" stroke-linecap="butt" stroke-linejoin="round"/>
<path d="M405.0 361.0 C404.1 361.9 401.1 364.7 399.5 366.5 C397.9 368.3 396.2 370.1 395.5 372.0 C394.8 373.9 394.7 376.2 395.0 378.0 C395.3 379.8 396.1 381.8 397.5 383.0 C398.9 384.2 402.5 385.1 403.5 385.5" stroke="#1c4cab" stroke-width="6.4" fill="none" stroke-linecap="butt" stroke-linejoin="round"/>
<path d="M405.0 361.0 C404.1 361.9 401.1 364.7 399.5 366.5 C397.9 368.3 396.2 370.1 395.5 372.0 C394.8 373.9 394.7 376.2 395.0 378.0 C395.3 379.8 396.1 381.8 397.5 383.0 C398.9 384.2 402.5 385.1 403.5 385.5" stroke="#2f68c4" stroke-width="2.40" fill="none" stroke-linecap="butt" stroke-linejoin="round"/>
<path d="M403.5 385.5 C404.3 385.2 406.8 385.1 408.3 383.9 C409.8 382.6 411.3 380.0 412.5 378.0 C413.7 376.0 414.8 373.7 415.7 371.7 C416.6 369.7 417.6 366.9 418.0 366.0" stroke="#3f6ea8" stroke-width="2.8" fill="none" stroke-linecap="round" stroke-linejoin="round"/>
<path d="M403.5 385.5 C404.3 385.2 406.8 385.1 408.3 383.9 C409.8 382.6 411.3 380.0 412.5 378.0 C413.7 376.0 414.8 373.7 415.7 371.7 C416.6 369.7 417.6 366.9 418.0 366.0" stroke="#6f9ccc" stroke-width="1.18" fill="none" stroke-linecap="round" stroke-linejoin="round"/>
<path d="M418.0 366.0 C418.3 365.0 419.5 362.0 420.0 360.0 C420.5 358.0 420.8 355.0 421.0 354.0" stroke="#2a8aa8" stroke-width="3.0" fill="none" stroke-linecap="round" stroke-linejoin="round"/>
<path d="M418.0 366.0 C418.3 365.0 419.5 362.0 420.0 360.0 C420.5 358.0 420.8 355.0 421.0 354.0" stroke="#60b8d0" stroke-width="1.26" fill="none" stroke-linecap="round" stroke-linejoin="round"/>
<path d="M403.5 386.3 C404.2 386.8 406.6 388.0 408.0 389.0 C409.4 390.0 410.5 391.4 412.0 392.5 C413.5 393.6 415.5 394.9 417.0 395.5 C418.5 396.1 419.4 396.5 421.0 396.0 C422.6 395.5 425.0 394.0 426.5 392.5 C428.0 391.0 429.4 387.9 430.0 387.0" stroke="#3f6ea8" stroke-width="2.8" fill="none" stroke-linecap="round" stroke-linejoin="round"/>
<path d="M403.5 386.3 C404.2 386.8 406.6 388.0 408.0 389.0 C409.4 390.0 410.5 391.4 412.0 392.5 C413.5 393.6 415.5 394.9 417.0 395.5 C418.5 396.1 419.4 396.5 421.0 396.0 C422.6 395.5 425.0 394.0 426.5 392.5 C428.0 391.0 429.4 387.9 430.0 387.0" stroke="#6f9ccc" stroke-width="1.18" fill="none" stroke-linecap="round" stroke-linejoin="round"/>
<path d="M459.5 297.5 C459.7 298.9 460.2 303.2 460.5 306.0 C460.8 308.8 460.9 312.7 461.0 314.0" stroke="#2aa0b4" stroke-width="3.2" fill="none" stroke-linecap="butt" stroke-linejoin="round"/>
<path d="M459.5 297.5 C459.7 298.9 460.2 303.2 460.5 306.0 C460.8 308.8 460.9 312.7 461.0 314.0" stroke="#60c8d4" stroke-width="1.20" fill="none" stroke-linecap="butt" stroke-linejoin="round"/>
<path d="M469.0 296.0 C469.2 297.0 470.2 300.0 470.5 302.0 C470.8 304.0 470.9 307.0 471.0 308.0" stroke="#2aa0b4" stroke-width="3.0" fill="none" stroke-linecap="butt" stroke-linejoin="round"/>
<path d="M469.0 296.0 C469.2 297.0 470.2 300.0 470.5 302.0 C470.8 304.0 470.9 307.0 471.0 308.0" stroke="#60c8d4" stroke-width="1.20" fill="none" stroke-linecap="butt" stroke-linejoin="round"/>
<path d="M465.0 290.0 C464.5 291.2 462.7 294.6 462.0 297.3 C461.3 300.0 461.2 304.6 461.0 306.0" stroke="#1b3c8a" stroke-width="2.3" fill="none" stroke-linecap="round" stroke-linejoin="round"/>
<path d="M465.0 290.0 C464.5 291.2 462.7 294.6 462.0 297.3 C461.3 300.0 461.2 304.6 461.0 306.0" stroke="#2c55ab" stroke-width="0.97" fill="none" stroke-linecap="round" stroke-linejoin="round"/>
<path d="M466.3 309.5 C467.2 308.9 469.7 307.2 472.0 306.0 C474.3 304.8 478.7 302.8 480.0 302.2" stroke="#1b3c8a" stroke-width="2.3" fill="none" stroke-linecap="round" stroke-linejoin="round"/>
<path d="M466.3 309.5 C467.2 308.9 469.7 307.2 472.0 306.0 C474.3 304.8 478.7 302.8 480.0 302.2" stroke="#2c55ab" stroke-width="0.97" fill="none" stroke-linecap="round" stroke-linejoin="round"/>
<path d="M431.5 306.0 C432.0 306.9 433.5 309.7 434.5 311.5 C435.5 313.3 436.7 315.2 437.5 317.0 C438.3 318.8 439.2 321.6 439.5 322.5" stroke="#9cc8e8" stroke-width="5.4" fill="none" stroke-linecap="butt" stroke-linejoin="round"/>
<path d="M431.5 306.0 C432.0 306.9 433.5 309.7 434.5 311.5 C435.5 313.3 436.7 315.2 437.5 317.0 C438.3 318.8 439.2 321.6 439.5 322.5" stroke="#c0def2" stroke-width="2.00" fill="none" stroke-linecap="butt" stroke-linejoin="round"/>
<path d="M424.0 322.0 C425.0 321.8 428.0 320.3 430.0 320.5 C432.0 320.7 434.8 321.6 436.0 323.0 C437.2 324.4 437.7 327.3 437.0 329.0 C436.3 330.7 433.8 332.5 432.0 333.0 C430.2 333.5 427.3 333.8 426.0 332.0 C424.7 330.2 424.3 323.7 424.0 322.0 Z" fill="#8cc0e4"/>
<path d="M420.0 319.0 C420.7 319.5 422.8 321.0 424.0 322.0 C425.2 323.0 426.9 324.5 427.5 325.0" stroke="#48a8c8" stroke-width="3.2" fill="none" stroke-linecap="butt" stroke-linejoin="round"/>
<path d="M420.0 319.0 C420.7 319.5 422.8 321.0 424.0 322.0 C425.2 323.0 426.9 324.5 427.5 325.0" stroke="#7ccbe0" stroke-width="1.20" fill="none" stroke-linecap="butt" stroke-linejoin="round"/>
<path d="M467.0 306.0 C466.8 308.0 466.1 313.7 465.5 318.0 C464.9 322.3 464.2 327.5 463.5 332.0 C462.8 336.5 462.1 341.0 461.5 345.0 C460.9 349.0 460.2 354.2 460.0 356.0" stroke="#2c68c8" stroke-width="7.0" fill="none" stroke-linecap="butt" stroke-linejoin="round"/>
<path d="M467.0 306.0 C466.8 308.0 466.1 313.7 465.5 318.0 C464.9 322.3 464.2 327.5 463.5 332.0 C462.8 336.5 462.1 341.0 461.5 345.0 C460.9 349.0 460.2 354.2 460.0 356.0" stroke="#3f80d6" stroke-width="2.60" fill="none" stroke-linecap="butt" stroke-linejoin="round"/>
<path d="M453.5 355.0 L466.0 356.0 L458.6 368.5 Z" fill="#1d4cb0"/>
<path d="M456.0 322.0 C455.3 324.3 453.2 331.3 452.0 336.0 C450.8 340.7 449.6 345.3 448.5 350.0 C447.4 354.7 446.4 359.3 445.5 364.0 C444.6 368.7 443.7 373.5 443.0 378.0 C442.3 382.5 441.8 388.8 441.5 391.0" stroke="#1c46aa" stroke-width="8.2" fill="none" stroke-linecap="butt" stroke-linejoin="round"/>
<path d="M456.0 322.0 C455.3 324.3 453.2 331.3 452.0 336.0 C450.8 340.7 449.6 345.3 448.5 350.0 C447.4 354.7 446.4 359.3 445.5 364.0 C444.6 368.7 443.7 373.5 443.0 378.0 C442.3 382.5 441.8 388.8 441.5 391.0" stroke="#2a62c4" stroke-width="3.00" fill="none" stroke-linecap="butt" stroke-linejoin="round"/>
<path d="M444.2 374.0 C444.0 375.3 443.4 379.2 443.0 382.0 C442.6 384.8 441.8 389.5 441.5 391.0" stroke="#3a94d4" stroke-width="7.4" fill="none" stroke-linecap="butt" stroke-linejoin="round"/>
<path d="M444.2 374.0 C444.0 375.3 443.4 379.2 443.0 382.0 C442.6 384.8 441.8 389.5 441.5 391.0" stroke="#52b6dc" stroke-width="3.00" fill="none" stroke-linecap="butt" stroke-linejoin="round"/>
<path d="M471.0 298.0 C470.2 299.5 468.0 303.8 466.0 307.0 C464.0 310.2 461.3 313.7 459.0 317.0 C456.7 320.3 454.2 323.8 452.0 327.0 C449.8 330.2 447.3 333.5 445.5 336.0 C443.7 338.5 441.8 341.0 441.0 342.0" stroke="#1a42a8" stroke-width="7.4" fill="none" stroke-linecap="butt" stroke-linejoin="round"/>
<path d="M471.0 298.0 C470.2 299.5 468.0 303.8 466.0 307.0 C464.0 310.2 461.3 313.7 459.0 317.0 C456.7 320.3 454.2 323.8 452.0 327.0 C449.8 330.2 447.3 333.5 445.5 336.0 C443.7 338.5 441.8 341.0 441.0 342.0" stroke="#2a5ec0" stroke-width="2.60" fill="none" stroke-linecap="butt" stroke-linejoin="round"/>
<path d="M437.5 338.5 L446.0 345.5 L434.0 350.5 Z" fill="#1a42a8"/>
<path d="M458.6 368.5 C459.2 369.2 460.4 371.9 461.9 373.0 C463.4 374.1 465.8 374.5 467.5 375.2 C469.2 375.9 470.9 376.5 472.0 377.4 C473.1 378.3 474.6 379.9 474.2 380.8 C473.8 381.7 471.8 382.4 469.7 383.0 C467.6 383.6 464.5 383.6 461.9 384.2 C459.3 384.8 456.2 385.5 454.1 386.4 C452.1 387.3 450.5 388.4 449.6 389.7 C448.7 391.0 448.7 393.4 448.5 394.2" stroke="#1b3c8a" stroke-width="2.3" fill="none" stroke-linecap="round" stroke-linejoin="round"/>
<path d="M458.6 368.5 C459.2 369.2 460.4 371.9 461.9 373.0 C463.4 374.1 465.8 374.5 467.5 375.2 C469.2 375.9 470.9 376.5 472.0 377.4 C473.1 378.3 474.6 379.9 474.2 380.8 C473.8 381.7 471.8 382.4 469.7 383.0 C467.6 383.6 464.5 383.6 461.9 384.2 C459.3 384.8 456.2 385.5 454.1 386.4 C452.1 387.3 450.5 388.4 449.6 389.7 C448.7 391.0 448.7 393.4 448.5 394.2" stroke="#2c55ab" stroke-width="0.97" fill="none" stroke-linecap="round" stroke-linejoin="round"/>
<path d="M449.7 387.8 C450.5 387.4 452.8 386.1 454.6 385.3 C456.4 384.5 458.7 383.6 460.7 382.9 C462.7 382.2 464.6 381.6 466.8 381.0 C469.0 380.4 471.9 379.7 474.1 379.2 C476.3 378.7 479.0 378.2 480.0 378.0" stroke="#1b3c8a" stroke-width="2.3" fill="none" stroke-linecap="round" stroke-linejoin="round"/>
<path d="M449.7 387.8 C450.5 387.4 452.8 386.1 454.6 385.3 C456.4 384.5 458.7 383.6 460.7 382.9 C462.7 382.2 464.6 381.6 466.8 381.0 C469.0 380.4 471.9 379.7 474.1 379.2 C476.3 378.7 479.0 378.2 480.0 378.0" stroke="#2c55ab" stroke-width="0.97" fill="none" stroke-linecap="round" stroke-linejoin="round"/>
<path d="M418.0 358.0 C419.2 357.7 422.9 356.4 425.0 356.2 C427.1 356.0 428.7 356.7 430.6 356.7 C432.5 356.7 434.7 356.6 436.2 356.2 C437.7 355.8 438.9 354.4 439.5 354.0" stroke="#1b3c8a" stroke-width="2.4" fill="none" stroke-linecap="round" stroke-linejoin="round"/>
<path d="M418.0 358.0 C419.2 357.7 422.9 356.4 425.0 356.2 C427.1 356.0 428.7 356.7 430.6 356.7 C432.5 356.7 434.7 356.6 436.2 356.2 C437.7 355.8 438.9 354.4 439.5 354.0" stroke="#2c55ab" stroke-width="1.01" fill="none" stroke-linecap="round" stroke-linejoin="round"/>
<path d="M447.3 390.2 C447.7 391.8 449.1 397.4 449.7 400.0 C450.3 402.6 450.7 405.0 450.9 406.0" stroke="#1b3c8a" stroke-width="2.4" fill="none" stroke-linecap="round" stroke-linejoin="round"/>
<path d="M447.3 390.2 C447.7 391.8 449.1 397.4 449.7 400.0 C450.3 402.6 450.7 405.0 450.9 406.0" stroke="#2c55ab" stroke-width="1.01" fill="none" stroke-linecap="round" stroke-linejoin="round"/>
<path d="M474.0 352.0 C475.3 351.8 479.3 351.6 482.0 351.0 C484.7 350.4 487.5 349.7 490.0 348.5 C492.5 347.3 495.2 345.4 497.0 344.0 C498.8 342.6 500.0 339.4 501.0 340.0 C502.0 340.6 502.4 345.5 503.0 347.8 C503.6 350.1 505.2 352.4 504.9 353.7 C504.6 355.0 502.6 355.0 501.0 355.6 C499.4 356.2 497.1 356.6 495.2 357.6 C493.2 358.6 491.2 360.2 489.3 361.5 C487.4 362.8 485.4 364.4 483.5 365.4 C481.6 366.4 479.2 366.6 477.6 367.3 C476.0 368.0 474.4 369.0 473.7 369.3" stroke="#1b3c8a" stroke-width="2.3" fill="none" stroke-linecap="round" stroke-linejoin="round"/>
<path d="M474.0 352.0 C475.3 351.8 479.3 351.6 482.0 351.0 C484.7 350.4 487.5 349.7 490.0 348.5 C492.5 347.3 495.2 345.4 497.0 344.0 C498.8 342.6 500.0 339.4 501.0 340.0 C502.0 340.6 502.4 345.5 503.0 347.8 C503.6 350.1 505.2 352.4 504.9 353.7 C504.6 355.0 502.6 355.0 501.0 355.6 C499.4 356.2 497.1 356.6 495.2 357.6 C493.2 358.6 491.2 360.2 489.3 361.5 C487.4 362.8 485.4 364.4 483.5 365.4 C481.6 366.4 479.2 366.6 477.6 367.3 C476.0 368.0 474.4 369.0 473.7 369.3" stroke="#2c55ab" stroke-width="0.97" fill="none" stroke-linecap="round" stroke-linejoin="round"/>
<path d="M466.0 352.0 C466.0 353.7 465.3 359.0 466.0 362.0 C466.7 365.0 469.3 368.7 470.0 370.0" stroke="#1b3c8a" stroke-width="2.3" fill="none" stroke-linecap="round" stroke-linejoin="round"/>
<path d="M466.0 352.0 C466.0 353.7 465.3 359.0 466.0 362.0 C466.7 365.0 469.3 368.7 470.0 370.0" stroke="#2c55ab" stroke-width="0.97" fill="none" stroke-linecap="round" stroke-linejoin="round"/>
<path d="M425.0 402.0 C425.2 400.0 425.1 393.1 426.0 390.0 C426.9 386.9 428.7 384.6 430.2 383.5 C431.7 382.4 434.0 382.6 435.1 383.5 C436.2 384.4 436.7 388.1 437.0 389.0" stroke="#3478cc" stroke-width="6.0" fill="none" stroke-linecap="butt" stroke-linejoin="round"/>
<path d="M425.0 402.0 C425.2 400.0 425.1 393.1 426.0 390.0 C426.9 386.9 428.7 384.6 430.2 383.5 C431.7 382.4 434.0 382.6 435.1 383.5 C436.2 384.4 436.7 388.1 437.0 389.0" stroke="#5a9ce0" stroke-width="2.20" fill="none" stroke-linecap="butt" stroke-linejoin="round"/>
<path d="M437.0 410.0 C437.8 408.7 440.3 404.2 442.0 402.0 C443.7 399.8 446.2 397.8 447.0 397.0" stroke="#7fb2e2" stroke-width="7.5" fill="none" stroke-linecap="butt" stroke-linejoin="round"/>
<path d="M437.0 410.0 C437.8 408.7 440.3 404.2 442.0 402.0 C443.7 399.8 446.2 397.8 447.0 397.0" stroke="#a6cdf0" stroke-width="2.60" fill="none" stroke-linecap="butt" stroke-linejoin="round"/>
<path d="M446.0 420.0 C447.0 418.3 450.0 412.7 452.0 410.0 C454.0 407.3 456.0 405.7 458.0 404.0 C460.0 402.3 463.0 400.7 464.0 400.0" stroke="#7fb2e2" stroke-width="7.5" fill="none" stroke-linecap="butt" stroke-linejoin="round"/>
<path d="M446.0 420.0 C447.0 418.3 450.0 412.7 452.0 410.0 C454.0 407.3 456.0 405.7 458.0 404.0 C460.0 402.3 463.0 400.7 464.0 400.0" stroke="#a6cdf0" stroke-width="2.60" fill="none" stroke-linecap="butt" stroke-linejoin="round"/>
<path d="M468.0 429.0 C469.2 426.8 472.7 419.7 475.0 416.0 C477.3 412.3 479.7 409.3 482.0 407.0 C484.3 404.7 487.8 402.8 489.0 402.0" stroke="#7fb2e2" stroke-width="7.5" fill="none" stroke-linecap="butt" stroke-linejoin="round"/>
<path d="M468.0 429.0 C469.2 426.8 472.7 419.7 475.0 416.0 C477.3 412.3 479.7 409.3 482.0 407.0 C484.3 404.7 487.8 402.8 489.0 402.0" stroke="#a6cdf0" stroke-width="2.60" fill="none" stroke-linecap="butt" stroke-linejoin="round"/>
<path d="M486.0 429.0 C487.3 427.0 491.3 420.3 494.0 417.0 C496.7 413.7 499.3 411.0 502.0 409.0 C504.7 407.0 508.7 405.7 510.0 405.0" stroke="#7fb2e2" stroke-width="7.5" fill="none" stroke-linecap="butt" stroke-linejoin="round"/>
<path d="M486.0 429.0 C487.3 427.0 491.3 420.3 494.0 417.0 C496.7 413.7 499.3 411.0 502.0 409.0 C504.7 407.0 508.7 405.7 510.0 405.0" stroke="#a6cdf0" stroke-width="2.60" fill="none" stroke-linecap="butt" stroke-linejoin="round"/>
<path d="M434.0 395.0 C434.5 396.5 435.8 401.0 437.0 404.0 C438.2 407.0 439.5 410.3 441.0 413.0 C442.5 415.7 445.2 418.8 446.0 420.0" stroke="#1a48a8" stroke-width="7.5" fill="none" stroke-linecap="butt" stroke-linejoin="round"/>
<path d="M434.0 395.0 C434.5 396.5 435.8 401.0 437.0 404.0 C438.2 407.0 439.5 410.3 441.0 413.0 C442.5 415.7 445.2 418.8 446.0 420.0" stroke="#2c62bf" stroke-width="2.60" fill="none" stroke-linecap="butt" stroke-linejoin="round"/>
<path d="M464.0 400.0 C464.3 401.3 465.5 405.0 466.0 408.0 C466.5 411.0 466.7 414.5 467.0 418.0 C467.3 421.5 467.8 427.2 468.0 429.0" stroke="#1a48a8" stroke-width="7.5" fill="none" stroke-linecap="butt" stroke-linejoin="round"/>
<path d="M464.0 400.0 C464.3 401.3 465.5 405.0 466.0 408.0 C466.5 411.0 466.7 414.5 467.0 418.0 C467.3 421.5 467.8 427.2 468.0 429.0" stroke="#2c62bf" stroke-width="2.60" fill="none" stroke-linecap="butt" stroke-linejoin="round"/>
<path d="M489.0 402.0 C489.2 403.3 490.0 407.0 490.0 410.0 C490.0 413.0 489.7 416.8 489.0 420.0 C488.3 423.2 486.5 427.5 486.0 429.0" stroke="#1a48a8" stroke-width="7.5" fill="none" stroke-linecap="butt" stroke-linejoin="round"/>
<path d="M489.0 402.0 C489.2 403.3 490.0 407.0 490.0 410.0 C490.0 413.0 489.7 416.8 489.0 420.0 C488.3 423.2 486.5 427.5 486.0 429.0" stroke="#2c62bf" stroke-width="2.60" fill="none" stroke-linecap="butt" stroke-linejoin="round"/>
<path d="M510.0 405.0 C510.2 406.5 511.3 411.2 511.0 414.0 C510.7 416.8 509.2 419.7 508.0 422.0 C506.8 424.3 504.7 427.0 504.0 428.0" stroke="#1a48a8" stroke-width="7.5" fill="none" stroke-linecap="butt" stroke-linejoin="round"/>
<path d="M510.0 405.0 C510.2 406.5 511.3 411.2 511.0 414.0 C510.7 416.8 509.2 419.7 508.0 422.0 C506.8 424.3 504.7 427.0 504.0 428.0" stroke="#2c62bf" stroke-width="2.60" fill="none" stroke-linecap="butt" stroke-linejoin="round"/>
<path d="M446.0 420.0 C447.0 420.8 449.7 423.5 452.0 425.0 C454.3 426.5 457.3 428.3 460.0 429.0 C462.7 429.7 466.7 429.0 468.0 429.0" stroke="#1d4eac" stroke-width="4.6" fill="none" stroke-linecap="butt" stroke-linejoin="round"/>
<path d="M446.0 420.0 C447.0 420.8 449.7 423.5 452.0 425.0 C454.3 426.5 457.3 428.3 460.0 429.0 C462.7 429.7 466.7 429.0 468.0 429.0" stroke="#3070c6" stroke-width="1.60" fill="none" stroke-linecap="butt" stroke-linejoin="round"/>
<path d="M462.0 428.0 C463.3 428.3 466.7 429.7 470.0 430.0 C473.3 430.3 477.7 430.2 482.0 430.0 C486.3 429.8 491.0 429.2 496.0 428.5 C501.0 427.8 509.3 426.4 512.0 426.0" stroke="#1a48a5" stroke-width="4.0" fill="none" stroke-linecap="butt" stroke-linejoin="round"/>
<path d="M462.0 428.0 C463.3 428.3 466.7 429.7 470.0 430.0 C473.3 430.3 477.7 430.2 482.0 430.0 C486.3 429.8 491.0 429.2 496.0 428.5 C501.0 427.8 509.3 426.4 512.0 426.0" stroke="#2c5fba" stroke-width="1.40" fill="none" stroke-linecap="butt" stroke-linejoin="round"/>
<path d="M468.0 428.0 C469.7 426.7 474.1 422.7 478.0 420.0 C481.9 417.3 487.1 413.9 491.3 412.0 C495.5 410.1 499.6 409.2 503.0 408.5 C506.4 407.8 510.5 408.1 512.0 408.0" stroke="#1b3c8a" stroke-width="2.3" fill="none" stroke-linecap="round" stroke-linejoin="round"/>
<path d="M468.0 428.0 C469.7 426.7 474.1 422.7 478.0 420.0 C481.9 417.3 487.1 413.9 491.3 412.0 C495.5 410.1 499.6 409.2 503.0 408.5 C506.4 407.8 510.5 408.1 512.0 408.0" stroke="#2c55ab" stroke-width="0.97" fill="none" stroke-linecap="round" stroke-linejoin="round"/>
<path d="M511.5 308.5 C510.6 309.2 507.8 311.2 506.0 313.0 C504.2 314.8 502.4 317.2 501.0 319.5 C499.6 321.8 498.1 325.3 497.5 326.5" stroke="#1c48a8" stroke-width="7.0" fill="none" stroke-linecap="butt" stroke-linejoin="round"/>
<path d="M511.5 308.5 C510.6 309.2 507.8 311.2 506.0 313.0 C504.2 314.8 502.4 317.2 501.0 319.5 C499.6 321.8 498.1 325.3 497.5 326.5" stroke="#3a74cc" stroke-width="2.60" fill="none" stroke-linecap="butt" stroke-linejoin="round"/>
<path d="M497.0 327.5 C498.0 328.0 500.5 329.9 503.0 330.5 C505.5 331.1 510.5 330.9 512.0 331.0" stroke="#1c48a8" stroke-width="6.0" fill="none" stroke-linecap="butt" stroke-linejoin="round"/>
<path d="M497.0 327.5 C498.0 328.0 500.5 329.9 503.0 330.5 C505.5 331.1 510.5 330.9 512.0 331.0" stroke="#2c5fba" stroke-width="2.20" fill="none" stroke-linecap="butt" stroke-linejoin="round"/>
<path d="M512.0 336.0 C510.7 335.9 506.0 335.3 504.0 335.5 C502.0 335.7 500.9 336.1 500.0 337.0 C499.1 337.9 498.6 339.7 498.5 341.0 C498.4 342.3 498.9 343.5 499.5 345.0 C500.1 346.5 501.6 349.2 502.0 350.0" stroke="#1b3c8a" stroke-width="2.3" fill="none" stroke-linecap="round" stroke-linejoin="round"/>
<path d="M512.0 336.0 C510.7 335.9 506.0 335.3 504.0 335.5 C502.0 335.7 500.9 336.1 500.0 337.0 C499.1 337.9 498.6 339.7 498.5 341.0 C498.4 342.3 498.9 343.5 499.5 345.0 C500.1 346.5 501.6 349.2 502.0 350.0" stroke="#2c55ab" stroke-width="0.97" fill="none" stroke-linecap="round" stroke-linejoin="round"/>
<path d="M490.0 291.0 C491.7 290.9 496.3 290.6 500.0 290.5 C503.7 290.4 510.0 290.5 512.0 290.5" stroke="#1b3c8a" stroke-width="2.3" fill="none" stroke-linecap="round" stroke-linejoin="round"/>
<path d="M490.0 291.0 C491.7 290.9 496.3 290.6 500.0 290.5 C503.7 290.4 510.0 290.5 512.0 290.5" stroke="#2c55ab" stroke-width="0.97" fill="none" stroke-linecap="round" stroke-linejoin="round"/>
<ellipse cx="501.5" cy="373" rx="5.6" ry="10" fill="none" stroke="#2a62ba" stroke-width="2.6"/>
<path d="M507.0 369.0 C507.5 370.5 509.3 374.8 510.0 378.0 C510.7 381.2 511.0 384.7 511.0 388.0 C511.0 391.3 510.2 396.3 510.0 398.0" stroke="#1a4aa8" stroke-width="4.4" fill="none" stroke-linecap="butt" stroke-linejoin="round"/>
<path d="M507.0 369.0 C507.5 370.5 509.3 374.8 510.0 378.0 C510.7 381.2 511.0 384.7 511.0 388.0 C511.0 391.3 510.2 396.3 510.0 398.0" stroke="#2c62bf" stroke-width="1.60" fill="none" stroke-linecap="butt" stroke-linejoin="round"/>
<path d="M414.0 280.5 C413.4 281.1 411.3 282.7 410.1 283.8 C408.9 284.9 407.6 286.1 406.8 287.2 C406.0 288.3 405.3 289.3 405.1 290.5 C404.9 291.7 405.2 293.1 405.6 294.5 C406.0 295.9 406.3 297.8 407.3 298.9 C408.3 300.0 410.9 300.5 411.8 301.2 C412.7 301.9 413.5 302.4 412.9 302.9 C412.3 303.4 409.9 303.8 408.4 304.0 C406.9 304.2 405.2 303.6 403.9 304.0 C402.6 304.4 401.5 305.3 400.6 306.2 C399.7 307.1 399.3 308.4 398.4 309.6 C397.5 310.8 396.0 312.7 395.0 313.5 C394.0 314.3 393.9 314.3 392.4 314.6 C390.9 314.9 388.1 315.3 385.9 315.4 C383.7 315.5 381.6 315.0 379.4 315.4 C377.2 315.8 375.1 316.9 372.9 317.9 C370.7 318.8 368.0 320.4 366.4 321.1 C364.8 321.8 363.6 321.9 363.0 322.0" stroke="#7a4508" stroke-width="3.0" fill="none" stroke-linecap="round" stroke-linejoin="round"/>
<path d="M414.0 280.5 C413.4 281.1 411.3 282.7 410.1 283.8 C408.9 284.9 407.6 286.1 406.8 287.2 C406.0 288.3 405.3 289.3 405.1 290.5 C404.9 291.7 405.2 293.1 405.6 294.5 C406.0 295.9 406.3 297.8 407.3 298.9 C408.3 300.0 410.9 300.5 411.8 301.2 C412.7 301.9 413.5 302.4 412.9 302.9 C412.3 303.4 409.9 303.8 408.4 304.0 C406.9 304.2 405.2 303.6 403.9 304.0 C402.6 304.4 401.5 305.3 400.6 306.2 C399.7 307.1 399.3 308.4 398.4 309.6 C397.5 310.8 396.0 312.7 395.0 313.5 C394.0 314.3 393.9 314.3 392.4 314.6 C390.9 314.9 388.1 315.3 385.9 315.4 C383.7 315.5 381.6 315.0 379.4 315.4 C377.2 315.8 375.1 316.9 372.9 317.9 C370.7 318.8 368.0 320.4 366.4 321.1 C364.8 321.8 363.6 321.9 363.0 322.0" stroke="#dc9c3c" stroke-width="1.40" fill="none" stroke-linecap="round" stroke-linejoin="round"/>
<path d="M363.0 318.0 C363.3 317.9 363.4 316.6 364.8 317.1 C366.2 317.6 368.9 320.0 371.3 321.1 C373.7 322.2 376.7 322.9 379.4 323.6 C382.1 324.3 384.5 324.8 387.5 325.2 C390.5 325.6 394.1 325.9 397.3 326.0 C400.6 326.1 403.8 326.0 407.0 326.0 C410.2 326.0 414.5 325.9 416.8 326.2 C419.1 326.4 418.9 327.7 420.7 327.5 C422.5 327.3 425.3 326.1 427.4 325.2 C429.4 324.3 431.3 322.7 433.0 321.9 C434.7 321.1 436.0 320.4 437.5 320.2 C439.0 320.0 440.5 320.1 442.0 320.7 C443.5 321.2 445.3 322.5 446.4 323.5 C447.5 324.5 447.7 325.5 448.7 326.9 C449.7 328.3 450.9 331.8 452.5 332.0 C454.1 332.2 456.0 329.0 458.0 328.0 C460.0 327.0 461.4 326.8 464.5 325.9 C467.6 325.0 472.9 323.1 476.6 322.5 C480.4 321.9 483.8 321.9 487.0 322.5 C490.2 323.1 493.3 324.6 495.6 325.9 C497.9 327.2 499.9 329.5 500.8 330.2" stroke="#7a6008" stroke-width="2.4" fill="none" stroke-linecap="round" stroke-linejoin="round"/>
<path d="M363.0 318.0 C363.3 317.9 363.4 316.6 364.8 317.1 C366.2 317.6 368.9 320.0 371.3 321.1 C373.7 322.2 376.7 322.9 379.4 323.6 C382.1 324.3 384.5 324.8 387.5 325.2 C390.5 325.6 394.1 325.9 397.3 326.0 C400.6 326.1 403.8 326.0 407.0 326.0 C410.2 326.0 414.5 325.9 416.8 326.2 C419.1 326.4 418.9 327.7 420.7 327.5 C422.5 327.3 425.3 326.1 427.4 325.2 C429.4 324.3 431.3 322.7 433.0 321.9 C434.7 321.1 436.0 320.4 437.5 320.2 C439.0 320.0 440.5 320.1 442.0 320.7 C443.5 321.2 445.3 322.5 446.4 323.5 C447.5 324.5 447.7 325.5 448.7 326.9 C449.7 328.3 450.9 331.8 452.5 332.0 C454.1 332.2 456.0 329.0 458.0 328.0 C460.0 327.0 461.4 326.8 464.5 325.9 C467.6 325.0 472.9 323.1 476.6 322.5 C480.4 321.9 483.8 321.9 487.0 322.5 C490.2 323.1 493.3 324.6 495.6 325.9 C497.9 327.2 499.9 329.5 500.8 330.2" stroke="#f2d448" stroke-width="1.20" fill="none" stroke-linecap="round" stroke-linejoin="round"/>
<path d="M423.5 263.5 L430 265 L434.7 267.6" stroke="#5a2040" stroke-width="2.7" fill="none" stroke-linecap="round"/>
<path d="M424 263.6 L430 265 L432.5 266.4" stroke="#eaa6cc" stroke-width="1.3" fill="none" stroke-linecap="round"/><circle cx="434.5" cy="267.5" r="1.2" fill="#7a1020"/>
<path d="M401.2 283.3 L405.1 284.4" stroke="#4a2040" stroke-width="2.2" stroke-linecap="round"/>
<path d="M412.4 284.4 L417.4 287.2" stroke="#1d3f8e" stroke-width="2.2" stroke-linecap="round"/>
<path d="M412.5 331.5 L413.5 336" stroke="#c03060" stroke-width="1.8"/>
<path d="M410 337 L414 334.3 L418.3 337 L418.3 343.5 L414.3 346.8 L410 344 Z" fill="none" stroke="#7a2a5a" stroke-width="2.2"/>
<path d="M410 337 L414 334.3 L418.3 337 L418.3 343.5 L414.3 346.8 L410 344 Z" fill="none" stroke="#f0aad2" stroke-width="1.1"/>
<path d="M417 346.5 L418.5 351 L420 356.9" stroke="#e8a0c8" stroke-width="1.5" fill="none"/>
<path d="M375.5 353.5 L379 352 L381.5 355.5 L380.5 359" stroke="#3a1a50" stroke-width="2.4" fill="none" stroke-linejoin="round"/>
<path d="M375.5 353.5 L379 352 L381.5 355.5 L380.5 359" stroke="#c890d8" stroke-width="1.1" fill="none" stroke-linejoin="round"/>
<circle cx="381" cy="360" r="1.1" fill="#d03030"/>
<path d="M451.5 332 L451.5 336.5 L454.5 342 M454.5 342 L459 339 L463.8 342 L464 349 L459.5 352.5 L454.8 349.5 Z M463.8 349.5 L466.5 353.5" stroke="#7a6008" stroke-width="2.2" fill="none" stroke-linejoin="round"/>
<path d="M451.5 332 L451.5 336.5 L454.5 342 M454.5 342 L459 339 L463.8 342 L464 349 L459.5 352.5 L454.8 349.5 Z M463.8 349.5 L466.5 353.5" stroke="#f0d040" stroke-width="1.0" fill="none" stroke-linejoin="round"/>
<path d="M466.5 353.5 L469.5 358.5 M465 362.5 L469.5 358.5 L475.5 360.5 M469.5 358.5 L472 354" stroke="#d82020" stroke-width="1.8" fill="none" stroke-linecap="round"/>
<path d="M436 371 L437 375" stroke="#2a7a3a" stroke-width="1.8"/>
<path d="M442.4 386.5 L446 384 L449.7 385.5" stroke="#2a7a3a" stroke-width="2" fill="none"/>
<circle cx="443" cy="387.8" r="1" fill="#d03030"/>
<path d="M427.8 402.6 L424 404.5 L423.5 409 L421.5 412" stroke="#0f3a18" stroke-width="2.6" fill="none"/><path d="M427.8 402.6 L424 404.5 L423.5 409 L421.5 412" stroke="#2a8040" stroke-width="1.2" fill="none"/>
<circle cx="424.7" cy="416" r="1.2" fill="#d03030"/>
</g>
<text x="429.1" y="261.5" font-size="7" fill="#222">D661</text>
<text x="380.8" y="287.2" font-size="7" fill="#222">K658</text>
<text x="372.0" y="340.7" font-size="7" fill="#222">N647</text>
<text x="396.3" y="357.2" font-size="7" fill="#222">Y640</text>
<text x="418.2" y="371.8" font-size="7" fill="#222">G618</text>
<text x="455.6" y="395.6" font-size="7" fill="#222">S614</text>
<text x="401.1" y="416.1" font-size="7" fill="#222">E616</text>
<text x="472.1" y="344" font-size="7" fill="#d0487a">pY705</text>
</g>
<text x="8.6" y="18.9" font-size="12.5" font-weight="bold" fill="#000">A</text>
<text x="9.3" y="235.3" font-size="12.5" font-weight="bold" fill="#000">B</text>
<text x="8.9" y="379.4" font-size="12.5" font-weight="bold" fill="#000">C</text>
<text x="352.6" y="235.4" font-size="12.5" font-weight="bold" fill="#000">D</text>
<path d="M0.8 0 V492 M0 0.75 H520 M519 0 V492 M0 491 H520" stroke="#000" stroke-width="2" fill="none"/>
</svg>
</body></html>
